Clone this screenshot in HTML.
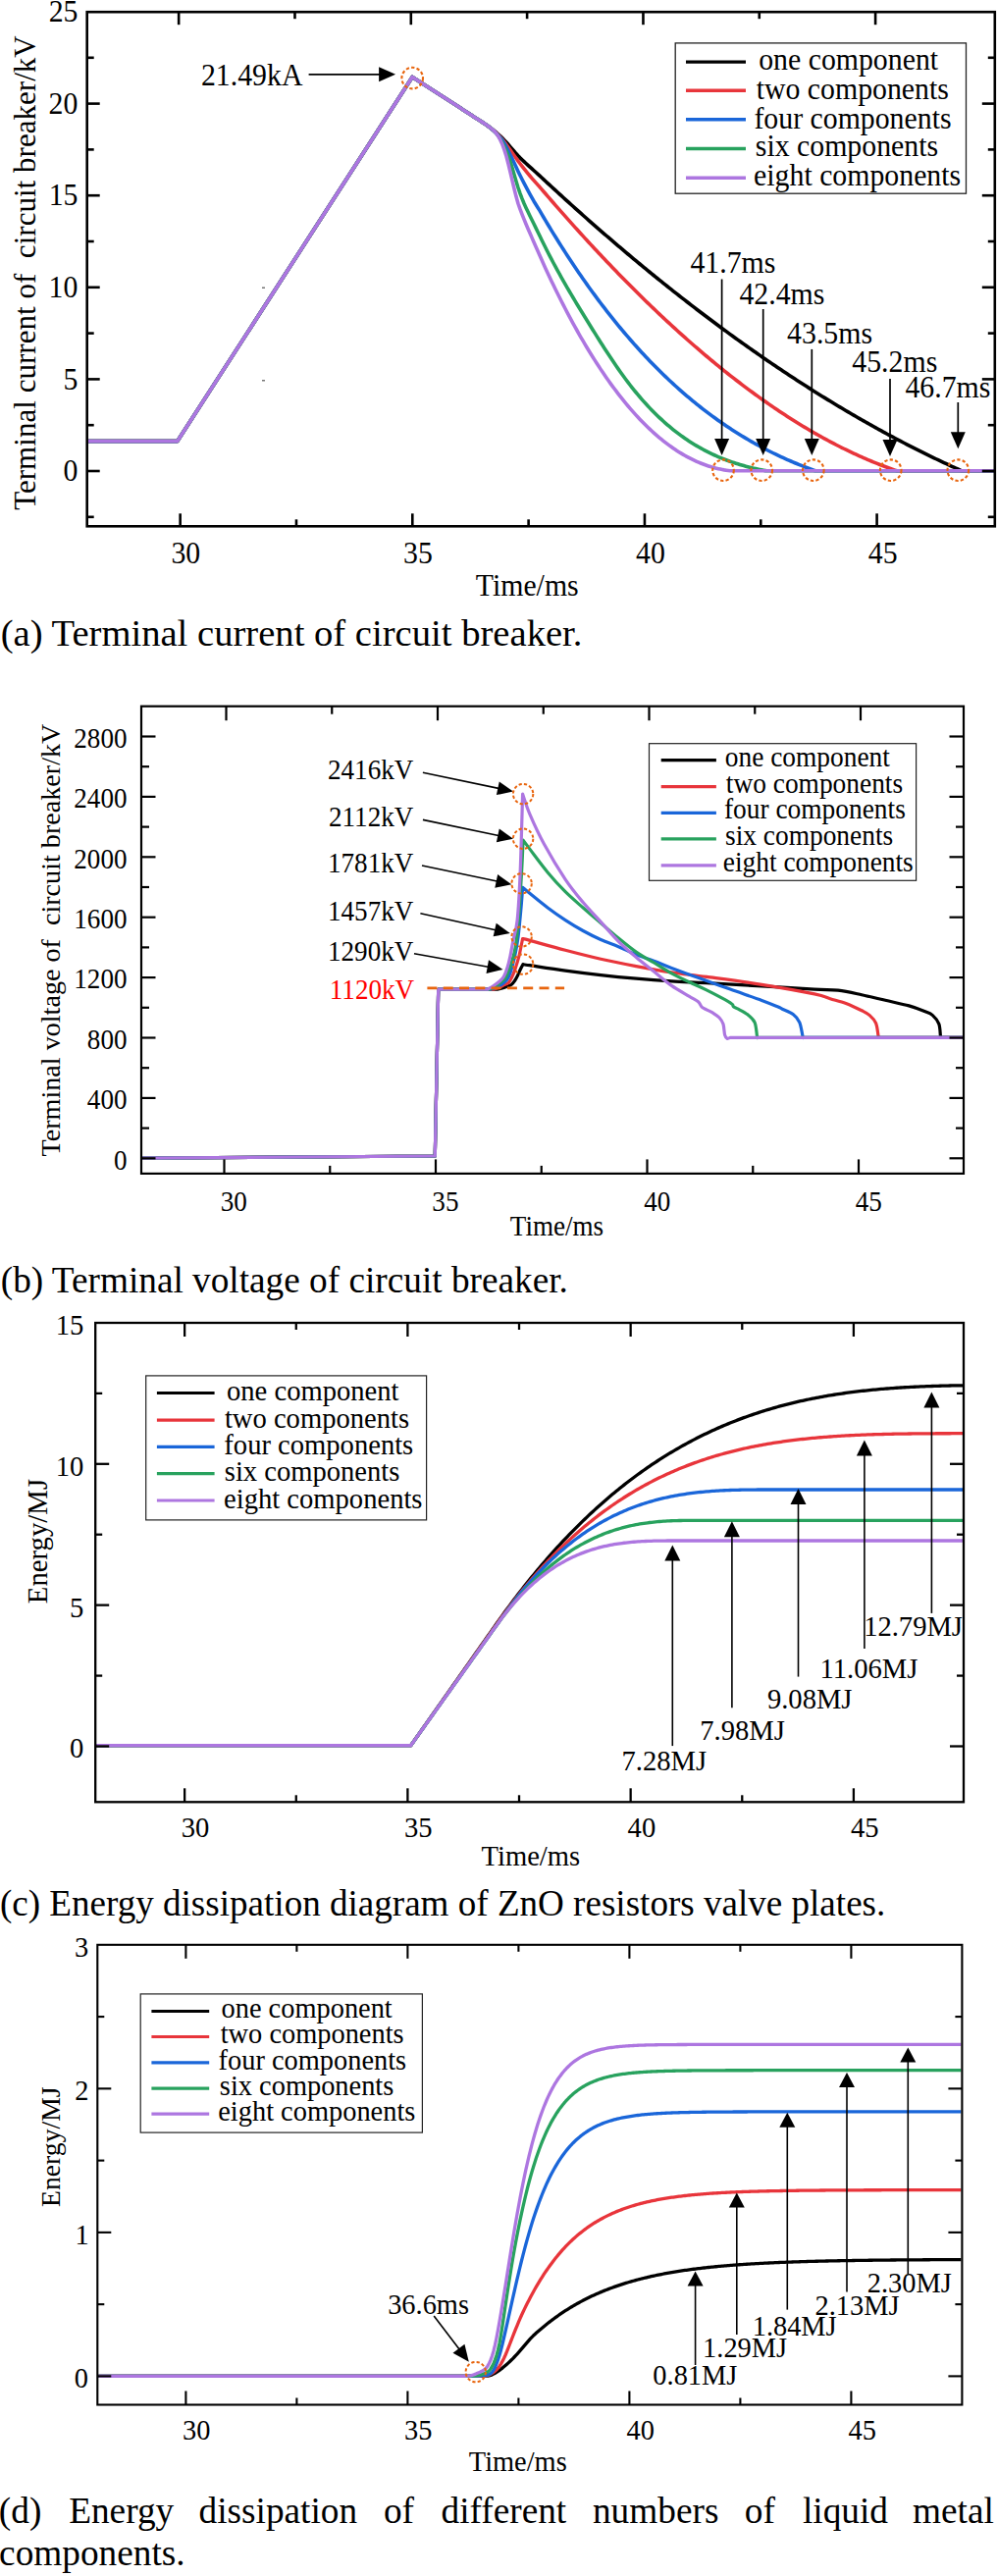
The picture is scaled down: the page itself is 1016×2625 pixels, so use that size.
<!DOCTYPE html>
<html><head><meta charset="utf-8"><style>
html,body{margin:0;padding:0;background:#fff;}
svg{display:block;}
text{font-family:"Liberation Serif", serif;}
</style></head><body>
<svg width="1016" height="2625" viewBox="0 0 1016 2625" font-family="Liberation Serif, serif">
<rect width="1016" height="2625" fill="#fff"/>
<path d="M89.7 449.6 L180.8 449.6 L420.2 78.4 L470 110.6 L472 111.9 L474 113.2 L476 114.5 L478 115.8 L480 117.1 L482 118.4 L484 119.7 L486 121 L488 122.3 L490 123.6 L492 124.88 L494 126.15 L496 127.5 L498 128.94 L500 130.42 L502 131.97 L504 133.58 L506 135.25 L508 137 L510 138.87 L512 140.86 L514 142.94 L516 145.06 L518 147.28 L520 149.58 L522 151.92 L524 154.27 L526 156.58 L528 158.78 L530 160.84 L532 162.79 L534 164.68 L536 166.52 L538 168.33 L540 170.13 L542 171.93 L544 173.72 L546 175.52 L548 177.32 L550 179.12 L552 180.98 L554 182.84 L556 184.7 L558 186.56 L560 188.41 L562 190.25 L564 192.09 L566 193.93 L568 195.76 L570 197.59 L572 199.42 L574 201.24 L576 203.05 L578 204.87 L580 206.68 L582 208.48 L584 210.28 L586 212.08 L588 213.87 L590 215.66 L592 217.44 L594 219.22 L596 221 L598 222.77 L600 224.53 L602 226.3 L604 228.06 L606 229.81 L608 231.56 L610 233.31 L612 235.05 L614 236.79 L616 238.52 L618 240.25 L620 241.98 L622 243.7 L624 245.42 L626 247.13 L628 248.84 L630 250.54 L632 252.24 L634 253.94 L636 255.63 L638 257.32 L640 259 L642 260.68 L644 262.35 L646 264.02 L648 265.69 L650 267.35 L652 269.01 L654 270.66 L656 272.31 L658 273.96 L660 275.6 L662 277.24 L664 278.87 L666 280.5 L668 282.12 L670 283.74 L672 285.35 L674 286.96 L676 288.57 L678 290.17 L680 291.77 L682 293.36 L684 294.95 L686 296.54 L688 298.12 L690 299.69 L692 301.26 L694 302.83 L696 304.39 L698 305.95 L700 307.51 L702 309.05 L704 310.6 L706 312.14 L708 313.68 L710 315.21 L712 316.74 L714 318.26 L716 319.78 L718 321.29 L720 322.8 L722 324.31 L724 325.81 L726 327.31 L728 328.8 L730 330.29 L732 331.77 L734 333.25 L736 334.72 L738 336.19 L740 337.66 L742 339.12 L744 340.58 L746 342.03 L748 343.48 L750 344.92 L752 346.36 L754 347.79 L756 349.22 L758 350.65 L760 352.07 L762 353.48 L764 354.9 L766 356.3 L768 357.71 L770 359.1 L772 360.5 L774 361.89 L776 363.27 L778 364.65 L780 366.03 L782 367.4 L784 368.76 L786 370.12 L788 371.48 L790 372.83 L792 374.18 L794 375.53 L796 376.86 L798 378.2 L800 379.53 L802 380.85 L804 382.17 L806 383.49 L808 384.8 L810 386.11 L812 387.41 L814 388.71 L816 390 L818 391.29 L820 392.57 L822 393.85 L824 395.12 L826 396.39 L828 397.66 L830 398.92 L832 400.17 L834 401.42 L836 402.67 L838 403.91 L840 405.15 L842 406.38 L844 407.61 L846 408.83 L848 410.05 L850 411.26 L852 412.47 L854 413.67 L856 414.87 L858 416.07 L860 417.26 L862 418.44 L864 419.62 L866 420.8 L868 421.97 L870 423.13 L872 424.29 L874 425.45 L876 426.6 L878 427.75 L880 428.89 L882 430.03 L884 431.16 L886 432.29 L888 433.41 L890 434.53 L892 435.64 L894 436.75 L896 437.85 L898 438.95 L900 440.05 L902 441.14 L904 442.22 L906 443.3 L908 444.37 L910 445.44 L912 446.51 L914 447.57 L916 448.62 L918 449.67 L920 450.72 L922 451.76 L924 452.8 L926 453.83 L928 454.85 L930 455.88 L932 456.89 L934 457.9 L936 458.91 L938 459.91 L940 460.91 L942 461.9 L944 462.89 L946 463.87 L948 464.84 L950 465.82 L952 466.78 L954 467.75 L956 468.7 L958 469.66 L960 470.6 L962 471.55 L964 472.48 L966 473.42 L968 474.34 L970 475.27 L972 476.18 L974 477.1 L976 478 L978 478.91 L980 479.8 L1012.8 479.8" fill="none" stroke="#000000" stroke-width="3.6" stroke-linejoin="round" stroke-linecap="butt"/>
<path d="M89.7 449.6 L180.8 449.6 L420.2 78.4 L470 110.6 L472 111.9 L474 113.2 L476 114.5 L478 115.8 L480 117.1 L482 118.4 L484 119.7 L486 121 L488 122.3 L490 123.6 L492 124.87 L494 126.14 L496 127.5 L498 128.96 L500 130.48 L502 132.08 L504 133.76 L506 135.57 L508 137.5 L510 139.68 L512 142.11 L514 144.67 L516 147.28 L518 150.01 L520 152.84 L522 155.71 L524 158.54 L526 161.32 L528 164.07 L530 166.77 L532 169.39 L534 171.96 L536 174.45 L538 176.88 L540 179.25 L542 181.57 L544 183.86 L546 186.11 L548 188.35 L550 190.56 L552 192.9 L554 195.23 L556 197.55 L558 199.87 L560 202.18 L562 204.48 L564 206.78 L566 209.07 L568 211.35 L570 213.63 L572 215.9 L574 218.16 L576 220.42 L578 222.67 L580 224.91 L582 227.15 L584 229.38 L586 231.6 L588 233.81 L590 236.02 L592 238.22 L594 240.41 L596 242.6 L598 244.78 L600 246.95 L602 249.11 L604 251.27 L606 253.42 L608 255.56 L610 257.7 L612 259.83 L614 261.95 L616 264.06 L618 266.17 L620 268.26 L622 270.36 L624 272.44 L626 274.51 L628 276.58 L630 278.64 L632 280.7 L634 282.74 L636 284.78 L638 286.81 L640 288.83 L642 290.84 L644 292.85 L646 294.85 L648 296.84 L650 298.82 L652 300.8 L654 302.76 L656 304.72 L658 306.67 L660 308.61 L662 310.55 L664 312.47 L666 314.39 L668 316.3 L670 318.2 L672 320.1 L674 321.98 L676 323.86 L678 325.73 L680 327.59 L682 329.44 L684 331.29 L686 333.12 L688 334.95 L690 336.77 L692 338.58 L694 340.38 L696 342.17 L698 343.95 L700 345.73 L702 347.5 L704 349.25 L706 351 L708 352.74 L710 354.48 L712 356.2 L714 357.91 L716 359.62 L718 361.32 L720 363 L722 364.68 L724 366.35 L726 368.01 L728 369.66 L730 371.31 L732 372.94 L734 374.56 L736 376.18 L738 377.79 L740 379.38 L742 380.97 L744 382.55 L746 384.12 L748 385.68 L750 387.23 L752 388.77 L754 390.3 L756 391.82 L758 393.33 L760 394.84 L762 396.33 L764 397.82 L766 399.29 L768 400.76 L770 402.21 L772 403.66 L774 405.09 L776 406.52 L778 407.93 L780 409.34 L782 410.74 L784 412.13 L786 413.5 L788 414.87 L790 416.23 L792 417.57 L794 418.91 L796 420.24 L798 421.56 L800 422.86 L802 424.16 L804 425.45 L806 426.73 L808 427.99 L810 429.25 L812 430.5 L814 431.73 L816 432.96 L818 434.17 L820 435.38 L822 436.57 L824 437.76 L826 438.93 L828 440.09 L830 441.25 L832 442.39 L834 443.52 L836 444.64 L838 445.75 L840 446.85 L842 447.94 L844 449.02 L846 450.09 L848 451.15 L850 452.19 L852 453.23 L854 454.25 L856 455.27 L858 456.27 L860 457.26 L862 458.24 L864 459.21 L866 460.17 L868 461.12 L870 462.06 L872 462.98 L874 463.9 L876 464.8 L878 465.69 L880 466.57 L882 467.44 L884 468.3 L886 469.15 L888 469.99 L890 470.81 L892 471.62 L894 472.43 L896 473.22 L898 474 L900 474.76 L902 475.52 L904 476.26 L906 477 L908 477.72 L910 478.43 L912 479.13 L914 479.8 L1012.8 479.8" fill="none" stroke="#e8353b" stroke-width="3.6" stroke-linejoin="round" stroke-linecap="butt"/>
<path d="M89.7 449.6 L180.8 449.6 L420.2 78.4 L470 110.6 L472 111.9 L474 113.2 L476 114.5 L478 115.8 L480 117.1 L482 118.4 L484 119.7 L486 121 L488 122.3 L490 123.6 L492 124.87 L494 126.13 L496 127.5 L498 129 L500 130.59 L502 132.27 L504 134.08 L506 136 L508 138.06 L510 140.35 L512 142.96 L514 146.11 L516 149.8 L518 153.78 L520 157.8 L522 161.84 L524 166.03 L526 170.35 L528 174.66 L530 178.8 L532 182.78 L534 186.65 L536 190.44 L538 194.16 L540 197.82 L542 201.45 L544 204.96 L546 208.26 L548 211.46 L550 214.66 L552 218.09 L554 221.49 L556 224.86 L558 228.21 L560 231.53 L562 234.82 L564 238.09 L566 241.32 L568 244.54 L570 247.72 L572 250.88 L574 254.02 L576 257.12 L578 260.2 L580 263.26 L582 266.29 L584 269.29 L586 272.27 L588 275.22 L590 278.15 L592 281.06 L594 283.93 L596 286.78 L598 289.61 L600 292.42 L602 295.19 L604 297.95 L606 300.68 L608 303.38 L610 306.06 L612 308.72 L614 311.35 L616 313.96 L618 316.55 L620 319.11 L622 321.65 L624 324.16 L626 326.65 L628 329.12 L630 331.57 L632 333.99 L634 336.39 L636 338.77 L638 341.12 L640 343.45 L642 345.76 L644 348.05 L646 350.32 L648 352.56 L650 354.78 L652 356.98 L654 359.16 L656 361.32 L658 363.45 L660 365.56 L662 367.66 L664 369.73 L666 371.78 L668 373.81 L670 375.82 L672 377.81 L674 379.77 L676 381.72 L678 383.65 L680 385.56 L682 387.44 L684 389.31 L686 391.16 L688 392.98 L690 394.79 L692 396.58 L694 398.35 L696 400.1 L698 401.83 L700 403.54 L702 405.23 L704 406.91 L706 408.56 L708 410.2 L710 411.82 L712 413.42 L714 415 L716 416.56 L718 418.11 L720 419.64 L722 421.15 L724 422.64 L726 424.11 L728 425.57 L730 427.01 L732 428.43 L734 429.84 L736 431.23 L738 432.6 L740 433.95 L742 435.29 L744 436.61 L746 437.92 L748 439.21 L750 440.48 L752 441.74 L754 442.98 L756 444.2 L758 445.41 L760 446.61 L762 447.79 L764 448.95 L766 450.1 L768 451.23 L770 452.35 L772 453.45 L774 454.54 L776 455.61 L778 456.67 L780 457.71 L782 458.74 L784 459.76 L786 460.76 L788 461.75 L790 462.72 L792 463.68 L794 464.63 L796 465.56 L798 466.48 L800 467.38 L802 468.28 L804 469.15 L806 470.02 L808 470.87 L810 471.72 L812 472.54 L814 473.36 L816 474.16 L818 474.95 L820 475.73 L822 476.5 L824 477.25 L826 478 L828 478.73 L830 479.45 L831 479.8 L1012.8 479.8" fill="none" stroke="#1a66d9" stroke-width="3.6" stroke-linejoin="round" stroke-linecap="butt"/>
<path d="M89.7 449.6 L180.8 449.6 L420.2 78.4 L470 110.6 L472 111.9 L474 113.2 L476 114.5 L478 115.8 L480 117.1 L482 118.4 L484 119.7 L486 121 L488 122.3 L490 123.6 L492 124.87 L494 126.13 L496 127.5 L498 128.95 L500 130.47 L502 132.12 L504 133.97 L506 136.14 L508 138.82 L510 141.94 L512 145.56 L514 149.75 L516 154.27 L518 159.17 L520 164.62 L522 171 L524 178.08 L526 184.84 L528 191.25 L530 197.12 L532 202.42 L534 207.28 L536 211.65 L538 215.85 L540 219.96 L542 224.02 L544 228.07 L546 232.12 L548 236.21 L550 240.32 L552 244.46 L554 248.53 L556 252.53 L558 256.48 L560 260.36 L562 264.19 L564 267.97 L566 271.69 L568 275.37 L570 278.99 L572 282.58 L574 286.12 L576 289.62 L578 293.09 L580 296.52 L582 299.92 L584 303.29 L586 306.64 L588 309.96 L590 313.26 L592 316.54 L594 319.81 L596 323.06 L598 326.29 L600 329.52 L602 332.75 L604 335.96 L606 339.16 L608 342.35 L610 345.53 L612 348.68 L614 351.82 L616 354.93 L618 358.01 L620 361.07 L622 364.1 L624 367.1 L626 370.06 L628 372.99 L630 375.87 L632 378.72 L634 381.52 L636 384.27 L638 386.98 L640 389.63 L642 392.23 L644 394.79 L646 397.29 L648 399.75 L650 402.15 L652 404.51 L654 406.83 L656 409.09 L658 411.31 L660 413.48 L662 415.61 L664 417.69 L666 419.73 L668 421.72 L670 423.67 L672 425.58 L674 427.44 L676 429.27 L678 431.05 L680 432.79 L682 434.49 L684 436.16 L686 437.78 L688 439.36 L690 440.91 L692 442.42 L694 443.89 L696 445.33 L698 446.73 L700 448.09 L702 449.42 L704 450.72 L706 451.98 L708 453.2 L710 454.4 L712 455.56 L714 456.69 L716 457.79 L718 458.86 L720 459.9 L722 460.91 L724 461.89 L726 462.84 L728 463.76 L730 464.66 L732 465.53 L734 466.37 L736 467.18 L738 467.98 L740 468.74 L742 469.48 L744 470.2 L746 470.89 L748 471.56 L750 472.21 L752 472.84 L754 473.44 L756 474.03 L758 474.59 L760 475.14 L762 475.66 L764 476.17 L766 476.66 L768 477.13 L770 477.58 L772 478.02 L774 478.44 L776 478.85 L778 479.24 L780 479.61 L781 479.8 L1012.8 479.8" fill="none" stroke="#28a25e" stroke-width="3.6" stroke-linejoin="round" stroke-linecap="butt"/>
<path d="M89.7 449.6 L180.8 449.6 L420.2 78.4 L470 110.6 L472 111.9 L474 113.2 L476 114.5 L478 115.8 L480 117.1 L482 118.4 L484 119.7 L486 121 L488 122.3 L490 123.6 L492 124.87 L494 126.13 L496 127.5 L498 128.93 L500 130.41 L502 132.03 L504 133.92 L506 136.21 L508 139.23 L510 142.9 L512 147.38 L514 152.85 L516 159.23 L518 167.05 L520 175.38 L522 183.8 L524 192.4 L526 200.34 L528 207.49 L530 213.19 L532 218.41 L534 223.41 L536 228.24 L538 232.94 L540 237.55 L542 242.12 L544 246.66 L546 251.2 L548 255.74 L550 260.3 L552 264.83 L554 269.28 L556 273.65 L558 277.96 L560 282.22 L562 286.43 L564 290.58 L566 294.69 L568 298.76 L570 302.77 L572 306.74 L574 310.65 L576 314.52 L578 318.35 L580 322.12 L582 325.85 L584 329.53 L586 333.16 L588 336.75 L590 340.29 L592 343.78 L594 347.22 L596 350.62 L598 353.97 L600 357.28 L602 360.54 L604 363.75 L606 366.91 L608 370.03 L610 373.1 L612 376.13 L614 379.11 L616 382.05 L618 384.94 L620 387.78 L622 390.58 L624 393.33 L626 396.04 L628 398.7 L630 401.31 L632 403.88 L634 406.41 L636 408.89 L638 411.33 L640 413.72 L642 416.07 L644 418.37 L646 420.63 L648 422.85 L650 425.02 L652 427.15 L654 429.23 L656 431.27 L658 433.27 L660 435.22 L662 437.13 L664 439 L666 440.82 L668 442.6 L670 444.34 L672 446.03 L674 447.69 L676 449.3 L678 450.87 L680 452.39 L682 453.88 L684 455.32 L686 456.72 L688 458.08 L690 459.39 L692 460.67 L694 461.9 L696 463.1 L698 464.25 L700 465.36 L702 466.43 L704 467.46 L706 468.45 L708 469.4 L710 470.31 L712 471.18 L714 472 L716 472.79 L718 473.54 L720 474.25 L722 474.92 L724 475.55 L726 476.14 L728 476.69 L730 477.2 L732 477.67 L734 478.1 L736 478.5 L738 478.86 L740 479.17 L742 479.45 L744 479.69 L745 479.8 L1012.8 479.8" fill="none" stroke="#ad76e0" stroke-width="3.6" stroke-linejoin="round" stroke-linecap="butt"/>
<line x1="183.65" y1="536.3" x2="183.65" y2="523.3" stroke="#000" stroke-width="2.6" />
<line x1="182.15" y1="12.2" x2="182.15" y2="25.2" stroke="#000" stroke-width="2.6" />
<line x1="301.98" y1="536.3" x2="301.98" y2="529.3" stroke="#000" stroke-width="2.6" />
<line x1="300.48" y1="12.2" x2="300.48" y2="19.2" stroke="#000" stroke-width="2.6" />
<line x1="420.3" y1="536.3" x2="420.3" y2="523.3" stroke="#000" stroke-width="2.6" />
<line x1="418.8" y1="12.2" x2="418.8" y2="25.2" stroke="#000" stroke-width="2.6" />
<line x1="538.62" y1="536.3" x2="538.62" y2="529.3" stroke="#000" stroke-width="2.6" />
<line x1="537.12" y1="12.2" x2="537.12" y2="19.2" stroke="#000" stroke-width="2.6" />
<line x1="656.95" y1="536.3" x2="656.95" y2="523.3" stroke="#000" stroke-width="2.6" />
<line x1="655.45" y1="12.2" x2="655.45" y2="25.2" stroke="#000" stroke-width="2.6" />
<line x1="775.27" y1="536.3" x2="775.27" y2="529.3" stroke="#000" stroke-width="2.6" />
<line x1="773.77" y1="12.2" x2="773.77" y2="19.2" stroke="#000" stroke-width="2.6" />
<line x1="893.6" y1="536.3" x2="893.6" y2="523.3" stroke="#000" stroke-width="2.6" />
<line x1="892.1" y1="12.2" x2="892.1" y2="25.2" stroke="#000" stroke-width="2.6" />
<line x1="88.7" y1="526.8" x2="95.7" y2="526.8" stroke="#000" stroke-width="2.6" />
<line x1="1013.8" y1="526.8" x2="1006.8" y2="526.8" stroke="#000" stroke-width="2.6" />
<line x1="88.7" y1="480" x2="101.7" y2="480" stroke="#000" stroke-width="2.6" />
<line x1="1013.8" y1="480" x2="1000.8" y2="480" stroke="#000" stroke-width="2.6" />
<line x1="88.7" y1="433.2" x2="95.7" y2="433.2" stroke="#000" stroke-width="2.6" />
<line x1="1013.8" y1="433.2" x2="1006.8" y2="433.2" stroke="#000" stroke-width="2.6" />
<line x1="88.7" y1="386.4" x2="101.7" y2="386.4" stroke="#000" stroke-width="2.6" />
<line x1="1013.8" y1="386.4" x2="1000.8" y2="386.4" stroke="#000" stroke-width="2.6" />
<line x1="88.7" y1="339.6" x2="95.7" y2="339.6" stroke="#000" stroke-width="2.6" />
<line x1="1013.8" y1="339.6" x2="1006.8" y2="339.6" stroke="#000" stroke-width="2.6" />
<line x1="88.7" y1="292.8" x2="101.7" y2="292.8" stroke="#000" stroke-width="2.6" />
<line x1="1013.8" y1="292.8" x2="1000.8" y2="292.8" stroke="#000" stroke-width="2.6" />
<line x1="88.7" y1="246" x2="95.7" y2="246" stroke="#000" stroke-width="2.6" />
<line x1="1013.8" y1="246" x2="1006.8" y2="246" stroke="#000" stroke-width="2.6" />
<line x1="88.7" y1="199.2" x2="101.7" y2="199.2" stroke="#000" stroke-width="2.6" />
<line x1="1013.8" y1="199.2" x2="1000.8" y2="199.2" stroke="#000" stroke-width="2.6" />
<line x1="88.7" y1="152.4" x2="95.7" y2="152.4" stroke="#000" stroke-width="2.6" />
<line x1="1013.8" y1="152.4" x2="1006.8" y2="152.4" stroke="#000" stroke-width="2.6" />
<line x1="88.7" y1="105.6" x2="101.7" y2="105.6" stroke="#000" stroke-width="2.6" />
<line x1="1013.8" y1="105.6" x2="1000.8" y2="105.6" stroke="#000" stroke-width="2.6" />
<line x1="88.7" y1="58.8" x2="95.7" y2="58.8" stroke="#000" stroke-width="2.6" />
<line x1="1013.8" y1="58.8" x2="1006.8" y2="58.8" stroke="#000" stroke-width="2.6" />
<rect x="88.7" y="12.2" width="925.1" height="524.1" fill="none" stroke="#000" stroke-width="2.6"/>
<line x1="267" y1="293.2" x2="270" y2="293.2" stroke="#555" stroke-width="1.2" />
<line x1="267" y1="387.8" x2="270" y2="387.8" stroke="#555" stroke-width="1.2" />
<text transform="matrix(1 0 0 1.07 174.4 574.2)" font-size="29.8" fill="#000" xml:space="preserve">30</text>
<text transform="matrix(1 0 0 1.07 411.09 574.2)" font-size="29.8" fill="#000" xml:space="preserve">35</text>
<text transform="matrix(1 0 0 1.07 648.11 574.2)" font-size="29.8" fill="#000" xml:space="preserve">40</text>
<text transform="matrix(1 0 0 1.07 884.8 574.2)" font-size="29.8" fill="#000" xml:space="preserve">45</text>
<text transform="matrix(1 0 0 1.07 64.52 490.2)" font-size="29.8" fill="#000" xml:space="preserve">0</text>
<text transform="matrix(1 0 0 1.07 64.59 396.6)" font-size="29.8" fill="#000" xml:space="preserve">5</text>
<text transform="matrix(1 0 0 1.07 49.62 303)" font-size="29.8" fill="#000" xml:space="preserve">10</text>
<text transform="matrix(1 0 0 1.07 49.69 209.4)" font-size="29.8" fill="#000" xml:space="preserve">15</text>
<text transform="matrix(1 0 0 1.07 49.62 115.8)" font-size="29.8" fill="#000" xml:space="preserve">20</text>
<text transform="matrix(1 0 0 1.07 49.69 22.2)" font-size="29.8" fill="#000" xml:space="preserve">25</text>
<text transform="translate(35.6 519.84) rotate(-90)" font-size="31.08" xml:space="preserve">Terminal current of  circuit breaker/kV</text>
<text transform="matrix(1 0 0 1.07 484.78 606.9)" font-size="29.8" fill="#000" xml:space="preserve">Time/ms</text>
<text transform="matrix(1 0 0 1.07 204.96 87.1)" font-size="29.8" fill="#000" xml:space="preserve">21.49kA</text>
<line x1="314.6" y1="75.8" x2="388.1" y2="75.8" stroke="#000" stroke-width="1.7" />
<polygon points="403.1,75.8 386.1,83.3 386.1,68.3" fill="#000"/>
<circle cx="420.2" cy="79.6" r="10.8" fill="none" stroke="#e8650e" stroke-width="2.1" stroke-dasharray="3.3 2.2"/>
<text transform="matrix(1 0 0 1.07 703.4 277.6)" font-size="29.8" fill="#000" xml:space="preserve">41.7ms</text>
<line x1="735.6" y1="284.5" x2="735.6" y2="449" stroke="#000" stroke-width="1.7" />
<polygon points="735.6,464 728.1,447 743.1,447" fill="#000"/>
<text transform="matrix(1 0 0 1.07 753.4 309.7)" font-size="29.8" fill="#000" xml:space="preserve">42.4ms</text>
<line x1="777.7" y1="315" x2="777.7" y2="449" stroke="#000" stroke-width="1.7" />
<polygon points="777.7,464 770.2,447 785.2,447" fill="#000"/>
<text transform="matrix(1 0 0 1.07 802.1 349.8)" font-size="29.8" fill="#000" xml:space="preserve">43.5ms</text>
<line x1="827.3" y1="355.9" x2="827.3" y2="449" stroke="#000" stroke-width="1.7" />
<polygon points="827.3,464 819.8,447 834.8,447" fill="#000"/>
<text transform="matrix(1 0 0 1.07 868.3 379)" font-size="29.8" fill="#000" xml:space="preserve">45.2ms</text>
<line x1="907" y1="386" x2="907" y2="450" stroke="#000" stroke-width="1.7" />
<polygon points="907,465 899.5,448 914.5,448" fill="#000"/>
<text transform="matrix(1 0 0 1.07 922.4 405)" font-size="29.8" fill="#000" xml:space="preserve">46.7ms</text>
<line x1="976.3" y1="410" x2="976.3" y2="442.3" stroke="#000" stroke-width="1.7" />
<polygon points="976.3,457.3 968.8,440.3 983.8,440.3" fill="#000"/>
<circle cx="737" cy="479.2" r="10.8" fill="none" stroke="#e8650e" stroke-width="2.1" stroke-dasharray="3.3 2.2"/>
<circle cx="776.2" cy="479.2" r="10.8" fill="none" stroke="#e8650e" stroke-width="2.1" stroke-dasharray="3.3 2.2"/>
<circle cx="828.8" cy="479.2" r="10.8" fill="none" stroke="#e8650e" stroke-width="2.1" stroke-dasharray="3.3 2.2"/>
<circle cx="907.7" cy="479.2" r="10.8" fill="none" stroke="#e8650e" stroke-width="2.1" stroke-dasharray="3.3 2.2"/>
<circle cx="976.3" cy="479.2" r="10.8" fill="none" stroke="#e8650e" stroke-width="2.1" stroke-dasharray="3.3 2.2"/>
<rect x="688.2" y="43.9" width="296.3" height="153.3" fill="#fff" stroke="#222" stroke-width="1.3"/>
<line x1="699" y1="63.1" x2="760" y2="63.1" stroke="#000000" stroke-width="3.4" />
<text transform="matrix(1 0 0 1.07 773.18 71.4)" font-size="29.8" fill="#000" xml:space="preserve">one component</text>
<line x1="699" y1="92.2" x2="760" y2="92.2" stroke="#e8353b" stroke-width="3.4" />
<text transform="matrix(1 0 0 1.07 770.7 101.2)" font-size="29.8" fill="#000" xml:space="preserve">two components</text>
<line x1="699" y1="121.7" x2="760" y2="121.7" stroke="#1a66d9" stroke-width="3.4" />
<text transform="matrix(1 0 0 1.07 768.41 131)" font-size="29.8" fill="#000" xml:space="preserve">four components</text>
<line x1="699" y1="151.5" x2="760" y2="151.5" stroke="#28a25e" stroke-width="3.4" />
<text transform="matrix(1 0 0 1.07 769.81 159)" font-size="29.8" fill="#000" xml:space="preserve">six components</text>
<line x1="699" y1="181.3" x2="760" y2="181.3" stroke="#ad76e0" stroke-width="3.4" />
<text transform="matrix(1 0 0 1.07 768.11 188.9)" font-size="29.8" fill="#000" xml:space="preserve">eight components</text>
<text x="0.66" y="658" font-size="38.63" fill="#000" xml:space="preserve">(a) Terminal current of circuit breaker.</text>
<path d="M145 1180.2 L443.3 1178 L446.7 1008.1 L507 1008.1 C507.78 1007.92 510.2 1007.43 511.7 1007 C513.2 1006.57 514.4 1006.12 516 1005.5 C517.6 1004.88 519.88 1004.3 521.3 1003.3 C522.72 1002.3 523.43 1001.1 524.5 999.5 C525.57 997.9 526.78 995.53 527.7 993.7 C528.62 991.87 529.33 989.95 530 988.5 C530.67 987.05 531.2 985.98 531.7 985 C532.2 984.02 532.78 983 533 982.6 C534.17 982.78 532.82 982.62 540 983.7 C547.18 984.78 564.07 987.45 576.1 989.1 C588.13 990.75 600.17 992.25 612.2 993.6 C624.23 994.95 636.27 996.15 648.3 997.2 C660.33 998.25 672.45 999.15 684.4 999.9 C696.35 1000.65 704.68 1000.87 720 1001.7 C735.32 1002.53 757.97 1003.83 776.3 1004.9 C794.63 1005.97 817.03 1007.38 830 1008.1 C842.97 1008.82 846.08 1008.27 854.1 1009.2 C862.12 1010.13 870.08 1012.02 878.1 1013.7 C886.12 1015.38 894.17 1017.43 902.2 1019.3 C910.23 1021.17 919.62 1023.02 926.3 1024.9 C932.98 1026.78 938.28 1028.98 942.3 1030.6 C946.32 1032.22 947.98 1032.47 950.4 1034.6 C952.82 1036.73 955.47 1039.93 956.8 1043.4 C958.13 1046.87 958.03 1053.07 958.4 1055.4 C958.77 1057.73 958.9 1057.07 959 1057.4 L981 1057.4" fill="none" stroke="#000000" stroke-width="3.2" stroke-linejoin="round" stroke-linecap="butt"/>
<path d="M145 1180.2 L443.3 1178 L446.7 1008.1 L503 1008.1 C503.92 1007.83 506.83 1007.18 508.5 1006.5 C510.17 1005.82 511.4 1004.8 513 1004 C514.6 1003.2 516.68 1003.03 518.1 1001.7 C519.52 1000.37 520.43 998.13 521.5 996 C522.57 993.87 523.58 991.4 524.5 988.9 C525.42 986.4 526.2 983.68 527 981 C527.8 978.32 528.55 975.97 529.3 972.8 C530.05 969.63 530.95 964.72 531.5 962 C532.05 959.28 532.42 957.42 532.6 956.5 C533.83 956.82 532.75 956.43 540 958.4 C547.25 960.37 564.07 965.15 576.1 968.3 C588.13 971.45 600.17 974.58 612.2 977.3 C624.23 980.02 636.27 982.33 648.3 984.6 C660.33 986.87 672.45 989.1 684.4 990.9 C696.35 992.7 704.68 993.33 720 995.4 C735.32 997.47 757.97 1000.38 776.3 1003.3 C794.63 1006.22 818.38 1010.5 830 1012.9 C841.62 1015.3 840.65 1016.1 846 1017.7 C851.35 1019.3 856.75 1020.48 862.1 1022.5 C867.45 1024.52 874.08 1027.78 878.1 1029.8 C882.12 1031.82 883.78 1032.47 886.2 1034.6 C888.62 1036.73 891.13 1039.13 892.6 1042.6 C894.07 1046.07 894.52 1052.93 895 1055.4 C895.48 1057.87 895.42 1057.07 895.5 1057.4 L981 1057.4" fill="none" stroke="#e8353b" stroke-width="3.2" stroke-linejoin="round" stroke-linecap="butt"/>
<path d="M145 1180.2 L443.3 1178 L446.7 1008.1 L500 1008.1 C500.83 1007.83 503.33 1007.18 505 1006.5 C506.67 1005.82 508.08 1005.33 510 1004 C511.92 1002.67 514.75 1000.83 516.5 998.5 C518.25 996.17 519.17 993.92 520.5 990 C521.83 986.08 523.25 980.83 524.5 975 C525.75 969.17 526.92 963.33 528 955 C529.08 946.67 530.23 933.45 531 925 C531.77 916.55 532.33 907.75 532.6 904.3 C533.85 905.35 535.85 907.15 540.1 910.6 C544.35 914.05 552.1 920.5 558.1 925 C564.1 929.5 570.08 933.68 576.1 937.6 C582.12 941.52 588.18 945.18 594.2 948.5 C600.22 951.82 606.18 954.8 612.2 957.5 C618.22 960.2 624.28 962.15 630.3 964.7 C636.32 967.25 642.28 970.38 648.3 972.8 C654.32 975.22 660.38 976.93 666.4 979.2 C672.42 981.47 676.78 983.5 684.4 986.4 C692.02 989.3 702.13 992.98 712.1 996.6 C722.07 1000.22 733.5 1004.3 744.2 1008.1 C754.9 1011.9 768.28 1016.45 776.3 1019.4 C784.32 1022.35 788.82 1024.33 792.3 1025.8 C795.78 1027.27 794.52 1026.87 797.2 1028.2 C799.88 1029.53 805.47 1031.53 808.4 1033.8 C811.33 1036.07 813.2 1038.1 814.8 1041.8 C816.4 1045.5 817.38 1053.4 818 1056 C818.62 1058.6 818.42 1057.17 818.5 1057.4 L981 1057.4" fill="none" stroke="#1a66d9" stroke-width="3.2" stroke-linejoin="round" stroke-linecap="butt"/>
<path d="M145 1180.2 L443.3 1178 L446.7 1008.1 L498.5 1008.1 C499.35 1007.7 501.85 1006.72 503.6 1005.7 C505.35 1004.68 507.12 1003.47 509 1002 C510.88 1000.53 513.4 998.9 514.9 996.9 C516.4 994.9 516.93 992.67 518 990 C519.07 987.33 520.08 985.1 521.3 980.9 C522.52 976.7 524.1 972.45 525.3 964.8 C526.5 957.15 527.47 947.47 528.5 935 C529.53 922.53 530.73 903.13 531.5 890 C532.27 876.87 532.83 861.83 533.1 856.2 C534.25 857.73 535.83 859.95 540 865.4 C544.17 870.85 552.08 881.68 558.1 888.9 C564.12 896.12 570.08 902.68 576.1 908.7 C582.12 914.72 588.18 919.7 594.2 925 C600.22 930.3 606.18 935.33 612.2 940.5 C618.22 945.67 624.28 951.07 630.3 956 C636.32 960.93 642.28 965.93 648.3 970.1 C654.32 974.27 660.38 977.38 666.4 981 C672.42 984.62 678.38 988.5 684.4 991.8 C690.42 995.1 696.57 997.95 702.5 1000.8 C708.43 1003.65 713.05 1005.4 720 1008.9 C726.95 1012.4 739.63 1018.98 744.2 1021.8 C748.77 1024.62 746.07 1024.73 747.4 1025.8 C748.73 1026.87 749.8 1026.87 752.2 1028.2 C754.6 1029.53 758.98 1031.53 761.8 1033.8 C764.62 1036.07 767.48 1038.1 769.1 1041.8 C770.72 1045.5 771.02 1053.4 771.5 1056 C771.98 1058.6 771.92 1057.17 772 1057.4 L981 1057.4" fill="none" stroke="#28a25e" stroke-width="3.2" stroke-linejoin="round" stroke-linecap="butt"/>
<path d="M145 1180.2 L443.3 1178 L446.7 1008.1 L497 1008.1 C498 1007.5 501 1005.85 503 1004.5 C505 1003.15 507.28 1001.53 509 1000 C510.72 998.47 511.97 997.63 513.3 995.3 C514.63 992.97 515.88 989.55 517 986 C518.12 982.45 519 978.67 520 974 C521 969.33 521.82 964 523 958 C524.18 952 525.92 949.33 527.1 938 C528.28 926.67 529.18 911.48 530.1 890 C531.02 868.52 532.18 822.58 532.6 809.1 C533.85 812.6 536.47 821.62 540.1 830.1 C543.73 838.58 548.4 849 554.4 860 C560.4 871 569.47 886.17 576.1 896.1 C582.73 906.03 588.18 912.38 594.2 919.6 C600.22 926.82 606.18 932.78 612.2 939.4 C618.22 946.02 624.28 953.28 630.3 959.3 C636.32 965.32 642.28 970.38 648.3 975.5 C654.32 980.62 660.38 985.18 666.4 990 C672.42 994.82 678.38 1000.18 684.4 1004.4 C690.42 1008.62 697.98 1012.58 702.5 1015.3 C707.02 1018.02 709.4 1018.9 711.5 1020.7 C713.6 1022.5 713.68 1024.75 715.1 1026.1 C716.52 1027.45 718.1 1027.78 720 1028.8 C721.9 1029.82 724.33 1030.83 726.5 1032.2 C728.67 1033.57 731.25 1035.12 733 1037 C734.75 1038.88 736.07 1040.55 737 1043.5 C737.93 1046.45 737.93 1052.25 738.6 1054.7 C739.27 1057.15 740.07 1057.75 741 1058.2 C741.93 1058.65 743.67 1057.53 744.2 1057.4 L981 1057.4" fill="none" stroke="#ad76e0" stroke-width="3.2" stroke-linejoin="round" stroke-linecap="butt"/>
<line x1="228.5" y1="1195.9" x2="228.5" y2="1181.4" stroke="#000" stroke-width="2.2" />
<line x1="230.5" y1="719.7" x2="230.5" y2="734.2" stroke="#000" stroke-width="2.2" />
<line x1="336.25" y1="1195.9" x2="336.25" y2="1187.9" stroke="#000" stroke-width="2.2" />
<line x1="338.25" y1="719.7" x2="338.25" y2="727.7" stroke="#000" stroke-width="2.2" />
<line x1="444" y1="1195.9" x2="444" y2="1181.4" stroke="#000" stroke-width="2.2" />
<line x1="446" y1="719.7" x2="446" y2="734.2" stroke="#000" stroke-width="2.2" />
<line x1="551.75" y1="1195.9" x2="551.75" y2="1187.9" stroke="#000" stroke-width="2.2" />
<line x1="553.75" y1="719.7" x2="553.75" y2="727.7" stroke="#000" stroke-width="2.2" />
<line x1="659.5" y1="1195.9" x2="659.5" y2="1181.4" stroke="#000" stroke-width="2.2" />
<line x1="661.5" y1="719.7" x2="661.5" y2="734.2" stroke="#000" stroke-width="2.2" />
<line x1="767.25" y1="1195.9" x2="767.25" y2="1187.9" stroke="#000" stroke-width="2.2" />
<line x1="769.25" y1="719.7" x2="769.25" y2="727.7" stroke="#000" stroke-width="2.2" />
<line x1="875" y1="1195.9" x2="875" y2="1181.4" stroke="#000" stroke-width="2.2" />
<line x1="877" y1="719.7" x2="877" y2="734.2" stroke="#000" stroke-width="2.2" />
<line x1="144" y1="1180.3" x2="158.5" y2="1180.3" stroke="#000" stroke-width="2.2" />
<line x1="982" y1="1180.3" x2="967.5" y2="1180.3" stroke="#000" stroke-width="2.2" />
<line x1="144" y1="1149.6" x2="152" y2="1149.6" stroke="#000" stroke-width="2.2" />
<line x1="982" y1="1149.6" x2="974" y2="1149.6" stroke="#000" stroke-width="2.2" />
<line x1="144" y1="1118.9" x2="158.5" y2="1118.9" stroke="#000" stroke-width="2.2" />
<line x1="982" y1="1118.9" x2="967.5" y2="1118.9" stroke="#000" stroke-width="2.2" />
<line x1="144" y1="1088.2" x2="152" y2="1088.2" stroke="#000" stroke-width="2.2" />
<line x1="982" y1="1088.2" x2="974" y2="1088.2" stroke="#000" stroke-width="2.2" />
<line x1="144" y1="1057.5" x2="158.5" y2="1057.5" stroke="#000" stroke-width="2.2" />
<line x1="982" y1="1057.5" x2="967.5" y2="1057.5" stroke="#000" stroke-width="2.2" />
<line x1="144" y1="1026.8" x2="152" y2="1026.8" stroke="#000" stroke-width="2.2" />
<line x1="982" y1="1026.8" x2="974" y2="1026.8" stroke="#000" stroke-width="2.2" />
<line x1="144" y1="996.1" x2="158.5" y2="996.1" stroke="#000" stroke-width="2.2" />
<line x1="982" y1="996.1" x2="967.5" y2="996.1" stroke="#000" stroke-width="2.2" />
<line x1="144" y1="965.4" x2="152" y2="965.4" stroke="#000" stroke-width="2.2" />
<line x1="982" y1="965.4" x2="974" y2="965.4" stroke="#000" stroke-width="2.2" />
<line x1="144" y1="934.7" x2="158.5" y2="934.7" stroke="#000" stroke-width="2.2" />
<line x1="982" y1="934.7" x2="967.5" y2="934.7" stroke="#000" stroke-width="2.2" />
<line x1="144" y1="904" x2="152" y2="904" stroke="#000" stroke-width="2.2" />
<line x1="982" y1="904" x2="974" y2="904" stroke="#000" stroke-width="2.2" />
<line x1="144" y1="873.3" x2="158.5" y2="873.3" stroke="#000" stroke-width="2.2" />
<line x1="982" y1="873.3" x2="967.5" y2="873.3" stroke="#000" stroke-width="2.2" />
<line x1="144" y1="842.6" x2="152" y2="842.6" stroke="#000" stroke-width="2.2" />
<line x1="982" y1="842.6" x2="974" y2="842.6" stroke="#000" stroke-width="2.2" />
<line x1="144" y1="811.9" x2="158.5" y2="811.9" stroke="#000" stroke-width="2.2" />
<line x1="982" y1="811.9" x2="967.5" y2="811.9" stroke="#000" stroke-width="2.2" />
<line x1="144" y1="781.2" x2="152" y2="781.2" stroke="#000" stroke-width="2.2" />
<line x1="982" y1="781.2" x2="974" y2="781.2" stroke="#000" stroke-width="2.2" />
<line x1="144" y1="750.5" x2="158.5" y2="750.5" stroke="#000" stroke-width="2.2" />
<line x1="982" y1="750.5" x2="967.5" y2="750.5" stroke="#000" stroke-width="2.2" />
<rect x="144" y="719.7" width="838" height="476.2" fill="none" stroke="#000" stroke-width="2.2"/>
<text transform="matrix(1 0 0 1.05 224.81 1233.5)" font-size="27.1" fill="#000" xml:space="preserve">30</text>
<text transform="matrix(1 0 0 1.05 440.35 1233.5)" font-size="27.1" fill="#000" xml:space="preserve">35</text>
<text transform="matrix(1 0 0 1.05 656.19 1233.5)" font-size="27.1" fill="#000" xml:space="preserve">40</text>
<text transform="matrix(1 0 0 1.05 871.72 1233.5)" font-size="27.1" fill="#000" xml:space="preserve">45</text>
<text transform="matrix(1 0 0 1.05 115.97 1191.6)" font-size="27.1" fill="#000" xml:space="preserve">0</text>
<text transform="matrix(1 0 0 1.05 88.87 1130.2)" font-size="27.1" fill="#000" xml:space="preserve">400</text>
<text transform="matrix(1 0 0 1.05 88.87 1068.8)" font-size="27.1" fill="#000" xml:space="preserve">800</text>
<text transform="matrix(1 0 0 1.05 75.32 1007.4)" font-size="27.1" fill="#000" xml:space="preserve">1200</text>
<text transform="matrix(1 0 0 1.05 75.32 946)" font-size="27.1" fill="#000" xml:space="preserve">1600</text>
<text transform="matrix(1 0 0 1.05 75.32 884.6)" font-size="27.1" fill="#000" xml:space="preserve">2000</text>
<text transform="matrix(1 0 0 1.05 75.32 823.2)" font-size="27.1" fill="#000" xml:space="preserve">2400</text>
<text transform="matrix(1 0 0 1.05 75.32 761.8)" font-size="27.1" fill="#000" xml:space="preserve">2800</text>
<text transform="translate(60.6 1178.49) rotate(-90)" font-size="28.14" xml:space="preserve">Terminal voltage of  circuit breaker/kV</text>
<text transform="matrix(1 0 0 1.05 519.83 1259.4)" font-size="27.1" fill="#000" xml:space="preserve">Time/ms</text>
<text transform="matrix(1 0 0 1.05 334.01 793.7)" font-size="27.1" fill="#000" xml:space="preserve">2416kV</text>
<text transform="matrix(1 0 0 1.05 335.03 841.8)" font-size="27.1" fill="#000" xml:space="preserve">2112kV</text>
<text transform="matrix(1 0 0 1.05 334.01 889)" font-size="27.1" fill="#000" xml:space="preserve">1781kV</text>
<text transform="matrix(1 0 0 1.05 334.01 938.1)" font-size="27.1" fill="#000" xml:space="preserve">1457kV</text>
<text transform="matrix(1 0 0 1.05 334.01 978.9)" font-size="27.1" fill="#000" xml:space="preserve">1290kV</text>
<text transform="matrix(1 0 0 1.05 335.83 1017.6)" font-size="27.1" fill="#ff0000" xml:space="preserve">1120kV</text>
<line x1="430.9" y1="787.3" x2="509.29" y2="803.64" stroke="#000" stroke-width="1.6" />
<polygon points="523,806.5 505.91,810.09 508.77,796.38" fill="#000"/>
<line x1="430.9" y1="835.4" x2="509.3" y2="851.83" stroke="#000" stroke-width="1.6" />
<polygon points="523,854.7 505.9,858.27 508.78,844.57" fill="#000"/>
<line x1="430" y1="882" x2="507.7" y2="898.32" stroke="#000" stroke-width="1.6" />
<polygon points="521.4,901.2 504.3,904.76 507.18,891.06" fill="#000"/>
<line x1="428.4" y1="930.7" x2="506.13" y2="947.96" stroke="#000" stroke-width="1.6" />
<polygon points="519.8,951 502.66,954.36 505.7,940.7" fill="#000"/>
<line x1="422" y1="971.8" x2="498.72" y2="985.45" stroke="#000" stroke-width="1.6" />
<polygon points="512.5,987.9 495.52,991.99 497.97,978.21" fill="#000"/>
<circle cx="533.1" cy="809.1" r="10.2" fill="none" stroke="#e8650e" stroke-width="2" stroke-dasharray="3.2 2.2"/>
<circle cx="533.1" cy="854.7" r="10.2" fill="none" stroke="#e8650e" stroke-width="2" stroke-dasharray="3.2 2.2"/>
<circle cx="531.6" cy="900.3" r="10.2" fill="none" stroke="#e8650e" stroke-width="2" stroke-dasharray="3.2 2.2"/>
<circle cx="531.6" cy="954.5" r="10.2" fill="none" stroke="#e8650e" stroke-width="2" stroke-dasharray="3.2 2.2"/>
<circle cx="533.1" cy="982.6" r="10.2" fill="none" stroke="#e8650e" stroke-width="2" stroke-dasharray="3.2 2.2"/>
<line x1="435.4" y1="1006.9" x2="575.1" y2="1006.9" stroke="#e8650e" stroke-width="2.6" stroke-dasharray="10 6.3"/>
<rect x="661.5" y="757.7" width="272.1" height="139.6" fill="#fff" stroke="#222" stroke-width="1.2"/>
<line x1="673.7" y1="774.7" x2="729.9" y2="774.7" stroke="#000000" stroke-width="3.2" />
<text transform="matrix(1 0 0 1.05 738.77 780.7)" font-size="27.4" fill="#000" xml:space="preserve">one component</text>
<line x1="673.7" y1="801.6" x2="729.9" y2="801.6" stroke="#e8353b" stroke-width="3.2" />
<text transform="matrix(1 0 0 1.05 739.83 807.6)" font-size="27.4" fill="#000" xml:space="preserve">two components</text>
<line x1="673.7" y1="828.3" x2="729.9" y2="828.3" stroke="#1a66d9" stroke-width="3.2" />
<text transform="matrix(1 0 0 1.05 737.98 834.3)" font-size="27.4" fill="#000" xml:space="preserve">four components</text>
<line x1="673.7" y1="854.9" x2="729.9" y2="854.9" stroke="#28a25e" stroke-width="3.2" />
<text transform="matrix(1 0 0 1.05 739 860.9)" font-size="27.4" fill="#000" xml:space="preserve">six components</text>
<line x1="673.7" y1="881.8" x2="729.9" y2="881.8" stroke="#ad76e0" stroke-width="3.2" />
<text transform="matrix(1 0 0 1.05 736.8 887.8)" font-size="27.4" fill="#000" xml:space="preserve">eight components</text>
<text x="0.72" y="1316.5" font-size="37.27" fill="#000" xml:space="preserve">(b) Terminal voltage of circuit breaker.</text>
<path d="M98.2 1778.7 L418.6 1778.7 L420 1776.71 L422 1773.87 L424 1771.03 L426 1768.19 L428 1765.35 L430 1762.51 L432 1759.67 L434 1756.83 L436 1753.98 L438 1751.14 L440 1748.3 L442 1745.46 L444 1742.62 L446 1739.78 L448 1736.94 L450 1734.1 L452 1731.26 L454 1728.42 L456 1725.58 L458 1722.73 L460 1719.89 L462 1717.05 L464 1714.21 L466 1711.37 L468 1708.53 L470 1705.69 L472 1702.85 L474 1700.01 L476 1697.17 L478 1694.33 L480 1691.48 L482 1688.64 L484 1685.8 L486 1682.96 L488 1680.12 L490 1677.28 L492 1674.44 L494 1671.6 L496 1668.76 L498 1665.92 L500 1663.08 L502 1660.23 L504 1657.39 L506 1654.55 L508 1651.72 L510 1648.9 L512 1646.11 L514 1643.34 L516 1640.59 L518 1637.87 L520 1635.17 L522 1632.49 L524 1629.83 L526 1627.19 L528 1624.58 L530 1621.99 L532 1619.41 L534 1616.86 L536 1614.34 L538 1611.83 L540 1609.34 L542 1606.88 L544 1604.44 L546 1602.01 L548 1599.61 L550 1597.23 L552 1594.87 L554 1592.53 L556 1590.21 L558 1587.91 L560 1585.63 L562 1583.38 L564 1581.14 L566 1578.92 L568 1576.72 L570 1574.54 L572 1572.38 L574 1570.24 L576 1568.12 L578 1566.02 L580 1563.94 L582 1561.88 L584 1559.84 L586 1557.82 L588 1555.81 L590 1553.82 L592 1551.86 L594 1549.91 L596 1547.98 L598 1546.07 L600 1544.17 L602 1542.3 L604 1540.44 L606 1538.6 L608 1536.78 L610 1534.98 L612 1533.19 L614 1531.43 L616 1529.68 L618 1527.95 L620 1526.23 L622 1524.53 L624 1522.85 L626 1521.19 L628 1519.54 L630 1517.91 L632 1516.3 L634 1514.71 L636 1513.13 L638 1511.57 L640 1510.02 L642 1508.49 L644 1506.98 L646 1505.48 L648 1504 L650 1502.54 L652 1501.09 L654 1499.65 L656 1498.24 L658 1496.83 L660 1495.45 L662 1494.08 L664 1492.72 L666 1491.38 L668 1490.06 L670 1488.75 L672 1487.45 L674 1486.17 L676 1484.91 L678 1483.66 L680 1482.42 L682 1481.2 L684 1479.99 L686 1478.8 L688 1477.62 L690 1476.46 L692 1475.31 L694 1474.17 L696 1473.05 L698 1471.94 L700 1470.85 L702 1469.77 L704 1468.7 L706 1467.65 L708 1466.6 L710 1465.58 L712 1464.56 L714 1463.56 L716 1462.57 L718 1461.6 L720 1460.64 L722 1459.69 L724 1458.75 L726 1457.82 L728 1456.91 L730 1456.01 L732 1455.12 L734 1454.25 L736 1453.38 L738 1452.53 L740 1451.69 L742 1450.87 L744 1450.05 L746 1449.25 L748 1448.45 L750 1447.67 L752 1446.9 L754 1446.14 L756 1445.39 L758 1444.66 L760 1443.93 L762 1443.22 L764 1442.51 L766 1441.82 L768 1441.14 L770 1440.47 L772 1439.81 L774 1439.15 L776 1438.51 L778 1437.88 L780 1437.26 L782 1436.65 L784 1436.05 L786 1435.46 L788 1434.88 L790 1434.31 L792 1433.75 L794 1433.2 L796 1432.65 L798 1432.12 L800 1431.6 L802 1431.08 L804 1430.58 L806 1430.08 L808 1429.59 L810 1429.11 L812 1428.64 L814 1428.18 L816 1427.73 L818 1427.28 L820 1426.85 L822 1426.42 L824 1426 L826 1425.59 L828 1425.19 L830 1424.79 L832 1424.4 L834 1424.02 L836 1423.65 L838 1423.29 L840 1422.93 L842 1422.58 L844 1422.24 L846 1421.9 L848 1421.57 L850 1421.25 L852 1420.94 L854 1420.63 L856 1420.33 L858 1420.04 L860 1419.75 L862 1419.48 L864 1419.2 L866 1418.94 L868 1418.68 L870 1418.42 L872 1418.17 L874 1417.93 L876 1417.7 L878 1417.47 L880 1417.24 L882 1417.03 L884 1416.81 L886 1416.61 L888 1416.41 L890 1416.21 L892 1416.02 L894 1415.83 L896 1415.66 L898 1415.48 L900 1415.31 L902 1415.15 L904 1414.99 L906 1414.83 L908 1414.68 L910 1414.54 L912 1414.4 L914 1414.26 L916 1414.13 L918 1414 L920 1413.88 L922 1413.76 L924 1413.65 L926 1413.53 L928 1413.43 L930 1413.32 L932 1413.23 L934 1413.13 L936 1413.04 L938 1412.95 L940 1412.87 L942 1412.78 L944 1412.71 L946 1412.63 L948 1412.56 L950 1412.49 L952 1412.43 L954 1412.37 L956 1412.31 L958 1412.25 L960 1412.2 L962 1412.15 L964 1412.1 L966 1412.05 L968 1412.01 L970 1411.97 L972 1411.93 L974 1411.89 L976 1411.86 L978 1411.83 L980 1411.8 L981 1411.78" fill="none" stroke="#000000" stroke-width="3.3" stroke-linejoin="round" stroke-linecap="butt"/>
<path d="M98.2 1778.7 L418.6 1778.7 L420 1776.72 L422 1773.89 L424 1771.06 L426 1768.24 L428 1765.41 L430 1762.58 L432 1759.75 L434 1756.92 L436 1754.09 L438 1751.27 L440 1748.44 L442 1745.61 L444 1742.78 L446 1739.95 L448 1737.13 L450 1734.3 L452 1731.47 L454 1728.64 L456 1725.81 L458 1722.98 L460 1720.16 L462 1717.33 L464 1714.5 L466 1711.67 L468 1708.84 L470 1706.02 L472 1703.19 L474 1700.36 L476 1697.53 L478 1694.7 L480 1691.87 L482 1689.05 L484 1686.22 L486 1683.39 L488 1680.56 L490 1677.73 L492 1674.9 L494 1672.08 L496 1669.25 L498 1666.42 L500 1663.59 L502 1660.76 L504 1657.94 L506 1655.11 L508 1652.3 L510 1649.52 L512 1646.77 L514 1644.05 L516 1641.35 L518 1638.69 L520 1636.06 L522 1633.45 L524 1630.87 L526 1628.32 L528 1625.8 L530 1623.31 L532 1620.84 L534 1618.4 L536 1615.99 L538 1613.61 L540 1611.25 L542 1608.92 L544 1606.61 L546 1604.34 L548 1602.08 L550 1599.86 L552 1597.66 L554 1595.48 L556 1593.33 L558 1591.21 L560 1589.11 L562 1587.03 L564 1584.98 L566 1582.95 L568 1580.95 L570 1578.97 L572 1577.02 L574 1575.09 L576 1573.18 L578 1571.3 L580 1569.44 L582 1567.6 L584 1565.78 L586 1563.99 L588 1562.22 L590 1560.47 L592 1558.75 L594 1557.04 L596 1555.36 L598 1553.7 L600 1552.06 L602 1550.44 L604 1548.85 L606 1547.27 L608 1545.71 L610 1544.18 L612 1542.66 L614 1541.17 L616 1539.69 L618 1538.24 L620 1536.8 L622 1535.39 L624 1533.99 L626 1532.61 L628 1531.25 L630 1529.91 L632 1528.59 L634 1527.29 L636 1526.01 L638 1524.74 L640 1523.49 L642 1522.26 L644 1521.05 L646 1519.85 L648 1518.68 L650 1517.52 L652 1516.37 L654 1515.25 L656 1514.14 L658 1513.04 L660 1511.97 L662 1510.91 L664 1509.86 L666 1508.83 L668 1507.82 L670 1506.82 L672 1505.84 L674 1504.87 L676 1503.92 L678 1502.99 L680 1502.06 L682 1501.16 L684 1500.27 L686 1499.39 L688 1498.52 L690 1497.68 L692 1496.84 L694 1496.02 L696 1495.21 L698 1494.42 L700 1493.64 L702 1492.87 L704 1492.11 L706 1491.37 L708 1490.64 L710 1489.93 L712 1489.23 L714 1488.53 L716 1487.86 L718 1487.19 L720 1486.54 L722 1485.89 L724 1485.26 L726 1484.64 L728 1484.03 L730 1483.44 L732 1482.85 L734 1482.28 L736 1481.72 L738 1481.16 L740 1480.62 L742 1480.09 L744 1479.57 L746 1479.06 L748 1478.56 L750 1478.07 L752 1477.59 L754 1477.12 L756 1476.66 L758 1476.2 L760 1475.76 L762 1475.33 L764 1474.9 L766 1474.49 L768 1474.08 L770 1473.69 L772 1473.3 L774 1472.92 L776 1472.55 L778 1472.18 L780 1471.83 L782 1471.48 L784 1471.14 L786 1470.81 L788 1470.49 L790 1470.17 L792 1469.86 L794 1469.56 L796 1469.27 L798 1468.98 L800 1468.7 L802 1468.43 L804 1468.17 L806 1467.91 L808 1467.65 L810 1467.41 L812 1467.17 L814 1466.94 L816 1466.71 L818 1466.49 L820 1466.27 L822 1466.06 L824 1465.86 L826 1465.66 L828 1465.47 L830 1465.28 L832 1465.1 L834 1464.93 L836 1464.76 L838 1464.59 L840 1464.43 L842 1464.28 L844 1464.12 L846 1463.98 L848 1463.84 L850 1463.7 L852 1463.57 L854 1463.44 L856 1463.31 L858 1463.19 L860 1463.08 L862 1462.97 L864 1462.86 L866 1462.75 L868 1462.65 L870 1462.56 L872 1462.46 L874 1462.37 L876 1462.29 L878 1462.2 L880 1462.12 L882 1462.05 L884 1461.97 L886 1461.9 L888 1461.83 L890 1461.77 L892 1461.71 L894 1461.65 L896 1461.59 L898 1461.54 L900 1461.48 L902 1461.43 L904 1461.39 L906 1461.34 L908 1461.3 L910 1461.26 L912 1461.22 L914 1461.18 L916 1461.15 L918 1461.12 L920 1461.09 L922 1461.06 L924 1461.03 L926 1461 L928 1460.98 L930 1460.95 L932 1460.93 L934 1460.91 L936 1460.89 L938 1460.88 L940 1460.86 L942 1460.84 L944 1460.83 L946 1460.82 L948 1460.8 L950 1460.79 L952 1460.78 L954 1460.77 L956 1460.77 L958 1460.76 L960 1460.75 L962 1460.74 L964 1460.74 L966 1460.73 L968 1460.73 L970 1460.72 L972 1460.72 L974 1460.72 L976 1460.71 L978 1460.71 L980 1460.71 L981 1460.71" fill="none" stroke="#e8353b" stroke-width="3.3" stroke-linejoin="round" stroke-linecap="butt"/>
<path d="M98.2 1778.7 L418.6 1778.7 L420 1776.74 L422 1773.94 L424 1771.13 L426 1768.33 L428 1765.53 L430 1762.72 L432 1759.92 L434 1757.12 L436 1754.32 L438 1751.51 L440 1748.71 L442 1745.91 L444 1743.1 L446 1740.3 L448 1737.5 L450 1734.7 L452 1731.89 L454 1729.09 L456 1726.29 L458 1723.49 L460 1720.68 L462 1717.88 L464 1715.08 L466 1712.27 L468 1709.47 L470 1706.67 L472 1703.87 L474 1701.06 L476 1698.26 L478 1695.46 L480 1692.65 L482 1689.85 L484 1687.05 L486 1684.25 L488 1681.44 L490 1678.64 L492 1675.84 L494 1673.03 L496 1670.23 L498 1667.43 L500 1664.63 L502 1661.82 L504 1659.02 L506 1656.22 L508 1653.42 L510 1650.61 L512 1647.81 L514 1645.02 L516 1642.27 L518 1639.56 L520 1636.88 L522 1634.25 L524 1631.66 L526 1629.1 L528 1626.58 L530 1624.11 L532 1621.67 L534 1619.26 L536 1616.9 L538 1614.57 L540 1612.28 L542 1610.02 L544 1607.8 L546 1605.62 L548 1603.47 L550 1601.36 L552 1599.28 L554 1597.24 L556 1595.23 L558 1593.25 L560 1591.31 L562 1589.4 L564 1587.53 L566 1585.69 L568 1583.88 L570 1582.1 L572 1580.36 L574 1578.65 L576 1576.97 L578 1575.32 L580 1573.7 L582 1572.11 L584 1570.56 L586 1569.03 L588 1567.53 L590 1566.06 L592 1564.62 L594 1563.21 L596 1561.83 L598 1560.48 L600 1559.15 L602 1557.86 L604 1556.59 L606 1555.34 L608 1554.13 L610 1552.94 L612 1551.78 L614 1550.64 L616 1549.53 L618 1548.44 L620 1547.38 L622 1546.35 L624 1545.34 L626 1544.35 L628 1543.39 L630 1542.45 L632 1541.53 L634 1540.64 L636 1539.77 L638 1538.92 L640 1538.09 L642 1537.29 L644 1536.51 L646 1535.75 L648 1535.01 L650 1534.29 L652 1533.59 L654 1532.91 L656 1532.26 L658 1531.62 L660 1531 L662 1530.4 L664 1529.82 L666 1529.25 L668 1528.71 L670 1528.18 L672 1527.67 L674 1527.18 L676 1526.7 L678 1526.24 L680 1525.8 L682 1525.38 L684 1524.97 L686 1524.57 L688 1524.19 L690 1523.83 L692 1523.47 L694 1523.14 L696 1522.82 L698 1522.51 L700 1522.21 L702 1521.93 L704 1521.66 L706 1521.41 L708 1521.16 L710 1520.93 L712 1520.71 L714 1520.5 L716 1520.3 L718 1520.11 L720 1519.93 L722 1519.77 L724 1519.61 L726 1519.46 L728 1519.32 L730 1519.2 L732 1519.07 L734 1518.96 L736 1518.86 L738 1518.76 L740 1518.67 L742 1518.59 L744 1518.52 L746 1518.45 L748 1518.39 L750 1518.33 L752 1518.28 L754 1518.23 L756 1518.19 L758 1518.16 L760 1518.13 L762 1518.1 L764 1518.08 L766 1518.06 L768 1518.05 L770 1518.03 L772 1518.02 L774 1518.01 L776 1518.01 L778 1518 L780 1518 L782 1518 L784 1518 L786 1518 L788 1518 L790 1518 L792 1518 L794 1518 L796 1518 L798 1518 L800 1518 L802 1518 L804 1518 L806 1518 L808 1518 L810 1518 L812 1518 L814 1518 L816 1518 L818 1518 L820 1518 L822 1518 L824 1518 L826 1518 L828 1518 L830 1518 L832 1518 L834 1518 L836 1518 L838 1518 L840 1518 L842 1518 L844 1518 L846 1518 L848 1518 L850 1518 L852 1518 L854 1518 L856 1518 L858 1518 L860 1518 L862 1518 L864 1518 L866 1518 L868 1518 L870 1518 L872 1518 L874 1518 L876 1518 L878 1518 L880 1518 L882 1518 L884 1518 L886 1518 L888 1518 L890 1518 L892 1518 L894 1518 L896 1518 L898 1518 L900 1518 L902 1518 L904 1518 L906 1518 L908 1518 L910 1518 L912 1518 L914 1518 L916 1518 L918 1518 L920 1518 L922 1518 L924 1518 L926 1518 L928 1518 L930 1518 L932 1518 L934 1518 L936 1518 L938 1518 L940 1518 L942 1518 L944 1518 L946 1518 L948 1518 L950 1518 L952 1518 L954 1518 L956 1518 L958 1518 L960 1518 L962 1518 L964 1518 L966 1518 L968 1518 L970 1518 L972 1518 L974 1518 L976 1518 L978 1518 L980 1518 L981 1518" fill="none" stroke="#1a66d9" stroke-width="3.3" stroke-linejoin="round" stroke-linecap="butt"/>
<path d="M98.2 1778.7 L418.6 1778.7 L420 1776.74 L422 1773.94 L424 1771.14 L426 1768.33 L428 1765.53 L430 1762.73 L432 1759.93 L434 1757.13 L436 1754.32 L438 1751.52 L440 1748.72 L442 1745.92 L444 1743.12 L446 1740.32 L448 1737.51 L450 1734.71 L452 1731.91 L454 1729.11 L456 1726.31 L458 1723.5 L460 1720.7 L462 1717.9 L464 1715.1 L466 1712.3 L468 1709.49 L470 1706.69 L472 1703.89 L474 1701.09 L476 1698.29 L478 1695.49 L480 1692.68 L482 1689.88 L484 1687.08 L486 1684.28 L488 1681.48 L490 1678.67 L492 1675.87 L494 1673.07 L496 1670.27 L498 1667.47 L500 1664.67 L502 1661.86 L504 1659.06 L506 1656.27 L508 1653.51 L510 1650.79 L512 1648.12 L514 1645.5 L516 1642.92 L518 1640.38 L520 1637.88 L522 1635.43 L524 1633.02 L526 1630.65 L528 1628.32 L530 1626.04 L532 1623.79 L534 1621.59 L536 1619.43 L538 1617.3 L540 1615.22 L542 1613.18 L544 1611.18 L546 1609.21 L548 1607.29 L550 1605.4 L552 1603.56 L554 1601.75 L556 1599.98 L558 1598.24 L560 1596.54 L562 1594.88 L564 1593.26 L566 1591.67 L568 1590.12 L570 1588.61 L572 1587.13 L574 1585.68 L576 1584.27 L578 1582.89 L580 1581.55 L582 1580.24 L584 1578.97 L586 1577.72 L588 1576.51 L590 1575.34 L592 1574.19 L594 1573.08 L596 1572 L598 1570.94 L600 1569.92 L602 1568.93 L604 1567.97 L606 1567.04 L608 1566.14 L610 1565.27 L612 1564.43 L614 1563.61 L616 1562.82 L618 1562.06 L620 1561.33 L622 1560.62 L624 1559.94 L626 1559.29 L628 1558.66 L630 1558.06 L632 1557.48 L634 1556.93 L636 1556.4 L638 1555.89 L640 1555.41 L642 1554.95 L644 1554.51 L646 1554.1 L648 1553.7 L650 1553.33 L652 1552.98 L654 1552.64 L656 1552.33 L658 1552.04 L660 1551.76 L662 1551.51 L664 1551.27 L666 1551.05 L668 1550.84 L670 1550.66 L672 1550.49 L674 1550.33 L676 1550.19 L678 1550.06 L680 1549.95 L682 1549.84 L684 1549.76 L686 1549.68 L688 1549.61 L690 1549.56 L692 1549.51 L694 1549.48 L696 1549.45 L698 1549.43 L700 1549.41 L702 1549.41 L704 1549.4 L706 1549.4 L708 1549.4 L710 1549.4 L712 1549.4 L714 1549.4 L716 1549.4 L718 1549.4 L720 1549.4 L722 1549.4 L724 1549.4 L726 1549.4 L728 1549.4 L730 1549.4 L732 1549.4 L734 1549.4 L736 1549.4 L738 1549.4 L740 1549.4 L742 1549.4 L744 1549.4 L746 1549.4 L748 1549.4 L750 1549.4 L752 1549.4 L754 1549.4 L756 1549.4 L758 1549.4 L760 1549.4 L762 1549.4 L764 1549.4 L766 1549.4 L768 1549.4 L770 1549.4 L772 1549.4 L774 1549.4 L776 1549.4 L778 1549.4 L780 1549.4 L782 1549.4 L784 1549.4 L786 1549.4 L788 1549.4 L790 1549.4 L792 1549.4 L794 1549.4 L796 1549.4 L798 1549.4 L800 1549.4 L802 1549.4 L804 1549.4 L806 1549.4 L808 1549.4 L810 1549.4 L812 1549.4 L814 1549.4 L816 1549.4 L818 1549.4 L820 1549.4 L822 1549.4 L824 1549.4 L826 1549.4 L828 1549.4 L830 1549.4 L832 1549.4 L834 1549.4 L836 1549.4 L838 1549.4 L840 1549.4 L842 1549.4 L844 1549.4 L846 1549.4 L848 1549.4 L850 1549.4 L852 1549.4 L854 1549.4 L856 1549.4 L858 1549.4 L860 1549.4 L862 1549.4 L864 1549.4 L866 1549.4 L868 1549.4 L870 1549.4 L872 1549.4 L874 1549.4 L876 1549.4 L878 1549.4 L880 1549.4 L882 1549.4 L884 1549.4 L886 1549.4 L888 1549.4 L890 1549.4 L892 1549.4 L894 1549.4 L896 1549.4 L898 1549.4 L900 1549.4 L902 1549.4 L904 1549.4 L906 1549.4 L908 1549.4 L910 1549.4 L912 1549.4 L914 1549.4 L916 1549.4 L918 1549.4 L920 1549.4 L922 1549.4 L924 1549.4 L926 1549.4 L928 1549.4 L930 1549.4 L932 1549.4 L934 1549.4 L936 1549.4 L938 1549.4 L940 1549.4 L942 1549.4 L944 1549.4 L946 1549.4 L948 1549.4 L950 1549.4 L952 1549.4 L954 1549.4 L956 1549.4 L958 1549.4 L960 1549.4 L962 1549.4 L964 1549.4 L966 1549.4 L968 1549.4 L970 1549.4 L972 1549.4 L974 1549.4 L976 1549.4 L978 1549.4 L980 1549.4 L981 1549.4" fill="none" stroke="#28a25e" stroke-width="3.3" stroke-linejoin="round" stroke-linecap="butt"/>
<path d="M98.2 1778.7 L418.6 1778.7 L420 1776.74 L422 1773.94 L424 1771.13 L426 1768.33 L428 1765.53 L430 1762.72 L432 1759.92 L434 1757.12 L436 1754.32 L438 1751.51 L440 1748.71 L442 1745.91 L444 1743.11 L446 1740.3 L448 1737.5 L450 1734.7 L452 1731.89 L454 1729.09 L456 1726.29 L458 1723.49 L460 1720.68 L462 1717.88 L464 1715.08 L466 1712.28 L468 1709.47 L470 1706.67 L472 1703.87 L474 1701.06 L476 1698.26 L478 1695.46 L480 1692.66 L482 1689.85 L484 1687.05 L486 1684.25 L488 1681.45 L490 1678.64 L492 1675.84 L494 1673.04 L496 1670.23 L498 1667.43 L500 1664.63 L502 1661.83 L504 1659.02 L506 1656.22 L508 1653.44 L510 1650.72 L512 1648.06 L514 1645.46 L516 1642.92 L518 1640.44 L520 1638.02 L522 1635.65 L524 1633.33 L526 1631.08 L528 1628.87 L530 1626.72 L532 1624.63 L534 1622.58 L536 1620.59 L538 1618.65 L540 1616.76 L542 1614.92 L544 1613.13 L546 1611.39 L548 1609.69 L550 1608.04 L552 1606.44 L554 1604.89 L556 1603.38 L558 1601.91 L560 1600.49 L562 1599.11 L564 1597.77 L566 1596.48 L568 1595.22 L570 1594.01 L572 1592.84 L574 1591.7 L576 1590.61 L578 1589.55 L580 1588.53 L582 1587.54 L584 1586.59 L586 1585.68 L588 1584.8 L590 1583.95 L592 1583.14 L594 1582.36 L596 1581.61 L598 1580.89 L600 1580.2 L602 1579.54 L604 1578.92 L606 1578.31 L608 1577.74 L610 1577.2 L612 1576.68 L614 1576.18 L616 1575.71 L618 1575.27 L620 1574.85 L622 1574.45 L624 1574.08 L626 1573.72 L628 1573.39 L630 1573.08 L632 1572.79 L634 1572.52 L636 1572.26 L638 1572.03 L640 1571.81 L642 1571.6 L644 1571.42 L646 1571.24 L648 1571.09 L650 1570.94 L652 1570.81 L654 1570.7 L656 1570.59 L658 1570.5 L660 1570.41 L662 1570.34 L664 1570.28 L666 1570.22 L668 1570.17 L670 1570.13 L672 1570.1 L674 1570.07 L676 1570.05 L678 1570.03 L680 1570.02 L682 1570.01 L684 1570.01 L686 1570 L688 1570 L690 1570 L692 1570 L694 1570 L696 1570 L698 1570 L700 1570 L702 1570 L704 1570 L706 1570 L708 1570 L710 1570 L712 1570 L714 1570 L716 1570 L718 1570 L720 1570 L722 1570 L724 1570 L726 1570 L728 1570 L730 1570 L732 1570 L734 1570 L736 1570 L738 1570 L740 1570 L742 1570 L744 1570 L746 1570 L748 1570 L750 1570 L752 1570 L754 1570 L756 1570 L758 1570 L760 1570 L762 1570 L764 1570 L766 1570 L768 1570 L770 1570 L772 1570 L774 1570 L776 1570 L778 1570 L780 1570 L782 1570 L784 1570 L786 1570 L788 1570 L790 1570 L792 1570 L794 1570 L796 1570 L798 1570 L800 1570 L802 1570 L804 1570 L806 1570 L808 1570 L810 1570 L812 1570 L814 1570 L816 1570 L818 1570 L820 1570 L822 1570 L824 1570 L826 1570 L828 1570 L830 1570 L832 1570 L834 1570 L836 1570 L838 1570 L840 1570 L842 1570 L844 1570 L846 1570 L848 1570 L850 1570 L852 1570 L854 1570 L856 1570 L858 1570 L860 1570 L862 1570 L864 1570 L866 1570 L868 1570 L870 1570 L872 1570 L874 1570 L876 1570 L878 1570 L880 1570 L882 1570 L884 1570 L886 1570 L888 1570 L890 1570 L892 1570 L894 1570 L896 1570 L898 1570 L900 1570 L902 1570 L904 1570 L906 1570 L908 1570 L910 1570 L912 1570 L914 1570 L916 1570 L918 1570 L920 1570 L922 1570 L924 1570 L926 1570 L928 1570 L930 1570 L932 1570 L934 1570 L936 1570 L938 1570 L940 1570 L942 1570 L944 1570 L946 1570 L948 1570 L950 1570 L952 1570 L954 1570 L956 1570 L958 1570 L960 1570 L962 1570 L964 1570 L966 1570 L968 1570 L970 1570 L972 1570 L974 1570 L976 1570 L978 1570 L980 1570 L981 1570" fill="none" stroke="#ad76e0" stroke-width="3.3" stroke-linejoin="round" stroke-linecap="butt"/>
<line x1="188.15" y1="1836.3" x2="188.15" y2="1822.3" stroke="#000" stroke-width="2.3" />
<line x1="188.15" y1="1348" x2="188.15" y2="1362" stroke="#000" stroke-width="2.3" />
<line x1="301.77" y1="1836.3" x2="301.77" y2="1829.3" stroke="#000" stroke-width="2.3" />
<line x1="301.77" y1="1348" x2="301.77" y2="1355" stroke="#000" stroke-width="2.3" />
<line x1="415.4" y1="1836.3" x2="415.4" y2="1822.3" stroke="#000" stroke-width="2.3" />
<line x1="415.4" y1="1348" x2="415.4" y2="1362" stroke="#000" stroke-width="2.3" />
<line x1="529.02" y1="1836.3" x2="529.02" y2="1829.3" stroke="#000" stroke-width="2.3" />
<line x1="529.02" y1="1348" x2="529.02" y2="1355" stroke="#000" stroke-width="2.3" />
<line x1="642.65" y1="1836.3" x2="642.65" y2="1822.3" stroke="#000" stroke-width="2.3" />
<line x1="642.65" y1="1348" x2="642.65" y2="1362" stroke="#000" stroke-width="2.3" />
<line x1="756.27" y1="1836.3" x2="756.27" y2="1829.3" stroke="#000" stroke-width="2.3" />
<line x1="756.27" y1="1348" x2="756.27" y2="1355" stroke="#000" stroke-width="2.3" />
<line x1="869.9" y1="1836.3" x2="869.9" y2="1822.3" stroke="#000" stroke-width="2.3" />
<line x1="869.9" y1="1348" x2="869.9" y2="1362" stroke="#000" stroke-width="2.3" />
<line x1="97.2" y1="1779.5" x2="111.2" y2="1779.5" stroke="#000" stroke-width="2.3" />
<line x1="982" y1="1779.5" x2="968" y2="1779.5" stroke="#000" stroke-width="2.3" />
<line x1="97.2" y1="1707.58" x2="104.2" y2="1707.58" stroke="#000" stroke-width="2.3" />
<line x1="982" y1="1707.58" x2="975" y2="1707.58" stroke="#000" stroke-width="2.3" />
<line x1="97.2" y1="1635.65" x2="111.2" y2="1635.65" stroke="#000" stroke-width="2.3" />
<line x1="982" y1="1635.65" x2="968" y2="1635.65" stroke="#000" stroke-width="2.3" />
<line x1="97.2" y1="1563.72" x2="104.2" y2="1563.72" stroke="#000" stroke-width="2.3" />
<line x1="982" y1="1563.72" x2="975" y2="1563.72" stroke="#000" stroke-width="2.3" />
<line x1="97.2" y1="1491.8" x2="111.2" y2="1491.8" stroke="#000" stroke-width="2.3" />
<line x1="982" y1="1491.8" x2="968" y2="1491.8" stroke="#000" stroke-width="2.3" />
<line x1="97.2" y1="1419.88" x2="104.2" y2="1419.88" stroke="#000" stroke-width="2.3" />
<line x1="982" y1="1419.88" x2="975" y2="1419.88" stroke="#000" stroke-width="2.3" />
<rect x="97.2" y="1348" width="884.8" height="488.3" fill="none" stroke="#000" stroke-width="2.3"/>
<text transform="matrix(1 0 0 1.03 184.71 1872)" font-size="28.6" fill="#000" xml:space="preserve">30</text>
<text transform="matrix(1 0 0 1.03 411.99 1872)" font-size="28.6" fill="#000" xml:space="preserve">35</text>
<text transform="matrix(1 0 0 1.03 639.6 1872)" font-size="28.6" fill="#000" xml:space="preserve">40</text>
<text transform="matrix(1 0 0 1.03 866.89 1872)" font-size="28.6" fill="#000" xml:space="preserve">45</text>
<text transform="matrix(1 0 0 1.03 70.97 1791.4)" font-size="28.6" fill="#000" xml:space="preserve">0</text>
<text transform="matrix(1 0 0 1.03 71.04 1647.55)" font-size="28.6" fill="#000" xml:space="preserve">5</text>
<text transform="matrix(1 0 0 1.03 56.67 1503.7)" font-size="28.6" fill="#000" xml:space="preserve">10</text>
<text transform="matrix(1 0 0 1.03 56.74 1359.85)" font-size="28.6" fill="#000" xml:space="preserve">15</text>
<text transform="translate(48.3 1634.16) rotate(-90)" font-size="28.75" xml:space="preserve">Energy/MJ</text>
<text transform="matrix(1 0 0 1.03 490.5 1900.7)" font-size="28.6" fill="#000" xml:space="preserve">Time/ms</text>
<line x1="685.3" y1="1779.1" x2="685.3" y2="1588.5" stroke="#000" stroke-width="1.6" />
<polygon points="685.3,1574.5 693.3,1590.5 677.3,1590.5" fill="#000"/>
<text transform="matrix(1 0 0 1.03 633.56 1803.9)" font-size="28.6" fill="#000" xml:space="preserve">7.28MJ</text>
<line x1="745.9" y1="1740.3" x2="745.9" y2="1564.3" stroke="#000" stroke-width="1.6" />
<polygon points="745.9,1550.3 753.9,1566.3 737.9,1566.3" fill="#000"/>
<text transform="matrix(1 0 0 1.03 713.26 1773.4)" font-size="28.6" fill="#000" xml:space="preserve">7.98MJ</text>
<line x1="813.5" y1="1708.6" x2="813.5" y2="1531" stroke="#000" stroke-width="1.6" />
<polygon points="813.5,1517 821.5,1533 805.5,1533" fill="#000"/>
<text transform="matrix(1 0 0 1.03 781.93 1741)" font-size="28.6" fill="#000" xml:space="preserve">9.08MJ</text>
<line x1="880.9" y1="1680" x2="880.9" y2="1481.5" stroke="#000" stroke-width="1.6" />
<polygon points="880.9,1467.5 888.9,1483.5 872.9,1483.5" fill="#000"/>
<text transform="matrix(1 0 0 1.03 835.48 1709.8)" font-size="28.6" fill="#000" xml:space="preserve">11.06MJ</text>
<line x1="949.4" y1="1643.9" x2="949.4" y2="1432.5" stroke="#000" stroke-width="1.6" />
<polygon points="949.4,1418.5 957.4,1434.5 941.4,1434.5" fill="#000"/>
<text transform="matrix(1 0 0 1.03 880.14 1666.7)" font-size="28.6" fill="#000" xml:space="preserve">12.79MJ</text>
<rect x="148.7" y="1401.9" width="285.9" height="147" fill="#fff" stroke="#222" stroke-width="1.2"/>
<line x1="159.9" y1="1419.5" x2="218.6" y2="1419.5" stroke="#000000" stroke-width="3.2" />
<text transform="matrix(1 0 0 1.03 231.03 1427.1)" font-size="28.6" fill="#000" xml:space="preserve">one component</text>
<line x1="159.9" y1="1447.1" x2="218.6" y2="1447.1" stroke="#e8353b" stroke-width="3.2" />
<text transform="matrix(1 0 0 1.03 228.91 1454.7)" font-size="28.6" fill="#000" xml:space="preserve">two components</text>
<line x1="159.9" y1="1474.4" x2="218.6" y2="1474.4" stroke="#1a66d9" stroke-width="3.2" />
<text transform="matrix(1 0 0 1.03 228.34 1482)" font-size="28.6" fill="#000" xml:space="preserve">four components</text>
<line x1="159.9" y1="1501.7" x2="218.6" y2="1501.7" stroke="#28a25e" stroke-width="3.2" />
<text transform="matrix(1 0 0 1.03 228.76 1509.3)" font-size="28.6" fill="#000" xml:space="preserve">six components</text>
<line x1="159.9" y1="1529" x2="218.6" y2="1529" stroke="#ad76e0" stroke-width="3.2" />
<text transform="matrix(1 0 0 1.03 228.06 1536.6)" font-size="28.6" fill="#000" xml:space="preserve">eight components</text>
<text x="-0.07" y="1952" font-size="37.08" fill="#000" xml:space="preserve">(c) Energy dissipation diagram of ZnO resistors valve plates.</text>
<path d="M100.3 2421.3 L440 2421.3 L441.5 2421.3 L443 2421.3 L444.5 2421.3 L446 2421.3 L447.5 2421.3 L449 2421.3 L450.5 2421.3 L452 2421.3 L453.5 2421.3 L455 2421.3 L456.5 2421.3 L458 2421.3 L459.5 2421.3 L461 2421.3 L462.5 2421.3 L464 2421.3 L465.5 2421.3 L467 2421.3 L468.5 2421.3 L470 2421.3 L471.5 2421.3 L473 2421.3 L474.5 2421.3 L476 2421.3 L477.5 2421.3 L479 2421.3 L480.5 2421.3 L482 2421.3 L483.5 2421.3 L485 2421.3 L486.5 2421.3 L488 2421.3 L489.5 2421.29 L491 2421.28 L492.5 2421.25 L494 2421.21 L495.5 2421.13 L497 2421.01 L498.5 2420.8 L500 2420.42 L501.5 2419.86 L503 2419.13 L504.5 2418.29 L506 2417.39 L507.5 2416.43 L509 2415.4 L510.5 2414.29 L512 2413.1 L513.5 2411.85 L515 2410.55 L516.5 2409.22 L518 2407.86 L519.5 2406.47 L521 2405.03 L522.5 2403.55 L524 2402.03 L525.5 2400.45 L527 2398.83 L528.5 2397.16 L530 2395.43 L531.5 2393.66 L533 2391.87 L534.5 2390.08 L536 2388.31 L537.5 2386.56 L539 2384.83 L540.5 2383.16 L542 2381.57 L543.5 2380.08 L545 2378.68 L546.5 2377.33 L548 2376 L549.5 2374.7 L551 2373.41 L552.5 2372.15 L554 2370.9 L555.5 2369.68 L557 2368.47 L558.5 2367.28 L560 2366.12 L561.5 2364.97 L563 2363.84 L564.5 2362.73 L566 2361.63 L567.5 2360.56 L569 2359.5 L570.5 2358.46 L572 2357.44 L573.5 2356.43 L575 2355.45 L576.5 2354.48 L578 2353.52 L579.5 2352.58 L581 2351.66 L582.5 2350.75 L584 2349.86 L585.5 2348.99 L587 2348.13 L588.5 2347.28 L590 2346.45 L591.5 2345.64 L593 2344.83 L594.5 2344.05 L596 2343.27 L597.5 2342.51 L599 2341.77 L600.5 2341.03 L602 2340.31 L603.5 2339.61 L605 2338.91 L606.5 2338.23 L608 2337.56 L609.5 2336.9 L611 2336.26 L612.5 2335.62 L614 2335 L615.5 2334.39 L617 2333.78 L618.5 2333.19 L620 2332.62 L621.5 2332.05 L623 2331.49 L624.5 2330.94 L626 2330.4 L627.5 2329.87 L629 2329.35 L630.5 2328.84 L632 2328.34 L633.5 2327.85 L635 2327.37 L636.5 2326.9 L638 2326.43 L639.5 2325.98 L641 2325.53 L642.5 2325.09 L644 2324.66 L645.5 2324.24 L647 2323.82 L648.5 2323.42 L650 2323.02 L651.5 2322.62 L653 2322.24 L654.5 2321.86 L656 2321.49 L657.5 2321.12 L659 2320.77 L660.5 2320.42 L662 2320.07 L663.5 2319.73 L665 2319.4 L666.5 2319.08 L668 2318.76 L669.5 2318.44 L671 2318.14 L672.5 2317.83 L674 2317.54 L675.5 2317.25 L677 2316.96 L678.5 2316.68 L680 2316.41 L681.5 2316.14 L683 2315.87 L684.5 2315.61 L686 2315.36 L687.5 2315.11 L689 2314.87 L690.5 2314.63 L692 2314.39 L693.5 2314.16 L695 2313.93 L696.5 2313.71 L698 2313.49 L699.5 2313.28 L701 2313.07 L702.5 2312.86 L704 2312.66 L705.5 2312.46 L707 2312.26 L708.5 2312.07 L710 2311.88 L711.5 2311.7 L713 2311.52 L714.5 2311.34 L716 2311.17 L717.5 2311 L719 2310.83 L720.5 2310.67 L722 2310.51 L723.5 2310.35 L725 2310.19 L726.5 2310.04 L728 2309.89 L729.5 2309.75 L731 2309.6 L732.5 2309.46 L734 2309.32 L735.5 2309.19 L737 2309.06 L738.5 2308.93 L740 2308.8 L741.5 2308.67 L743 2308.55 L744.5 2308.43 L746 2308.31 L747.5 2308.2 L749 2308.08 L750.5 2307.97 L752 2307.86 L753.5 2307.75 L755 2307.65 L756.5 2307.54 L758 2307.44 L759.5 2307.34 L761 2307.25 L762.5 2307.15 L764 2307.06 L765.5 2306.97 L767 2306.88 L768.5 2306.79 L770 2306.7 L771.5 2306.61 L773 2306.53 L774.5 2306.45 L776 2306.37 L777.5 2306.29 L779 2306.21 L780.5 2306.14 L782 2306.06 L783.5 2305.99 L785 2305.92 L786.5 2305.85 L788 2305.78 L789.5 2305.71 L791 2305.65 L792.5 2305.58 L794 2305.52 L795.5 2305.46 L797 2305.39 L798.5 2305.33 L800 2305.28 L801.5 2305.22 L803 2305.16 L804.5 2305.11 L806 2305.05 L807.5 2305 L809 2304.95 L810.5 2304.89 L812 2304.84 L813.5 2304.79 L815 2304.75 L816.5 2304.7 L818 2304.65 L819.5 2304.61 L821 2304.56 L822.5 2304.52 L824 2304.47 L825.5 2304.43 L827 2304.39 L828.5 2304.35 L830 2304.31 L831.5 2304.27 L833 2304.23 L834.5 2304.19 L836 2304.16 L837.5 2304.12 L839 2304.09 L840.5 2304.05 L842 2304.02 L843.5 2303.98 L845 2303.95 L846.5 2303.92 L848 2303.89 L849.5 2303.86 L851 2303.83 L852.5 2303.8 L854 2303.77 L855.5 2303.74 L857 2303.71 L858.5 2303.68 L860 2303.66 L861.5 2303.63 L863 2303.6 L864.5 2303.58 L866 2303.55 L867.5 2303.53 L869 2303.51 L870.5 2303.48 L872 2303.46 L873.5 2303.44 L875 2303.41 L876.5 2303.39 L878 2303.37 L879.5 2303.35 L881 2303.33 L882.5 2303.31 L884 2303.29 L885.5 2303.27 L887 2303.25 L888.5 2303.23 L890 2303.21 L891.5 2303.2 L893 2303.18 L894.5 2303.16 L896 2303.15 L897.5 2303.13 L899 2303.11 L900.5 2303.1 L902 2303.08 L903.5 2303.07 L905 2303.05 L906.5 2303.04 L908 2303.02 L909.5 2303.01 L911 2302.99 L912.5 2302.98 L914 2302.97 L915.5 2302.95 L917 2302.94 L918.5 2302.93 L920 2302.92 L921.5 2302.9 L923 2302.89 L924.5 2302.88 L926 2302.87 L927.5 2302.86 L929 2302.85 L930.5 2302.84 L932 2302.83 L933.5 2302.82 L935 2302.81 L936.5 2302.8 L938 2302.79 L939.5 2302.78 L941 2302.77 L942.5 2302.76 L944 2302.75 L945.5 2302.74 L947 2302.73 L948.5 2302.72 L950 2302.72 L951.5 2302.71 L953 2302.7 L954.5 2302.69 L956 2302.68 L957.5 2302.68 L959 2302.67 L960.5 2302.66 L962 2302.65 L963.5 2302.65 L965 2302.64 L966.5 2302.63 L968 2302.63 L969.5 2302.62 L971 2302.61 L972.5 2302.61 L974 2302.6 L975.5 2302.6 L977 2302.59 L978.5 2302.59 L979.4 2302.58" fill="none" stroke="#000000" stroke-width="3.3" stroke-linejoin="round" stroke-linecap="butt"/>
<path d="M100.3 2421.3 L440 2421.3 L441.5 2421.3 L443 2421.3 L444.5 2421.3 L446 2421.3 L447.5 2421.3 L449 2421.3 L450.5 2421.3 L452 2421.3 L453.5 2421.3 L455 2421.3 L456.5 2421.3 L458 2421.3 L459.5 2421.3 L461 2421.3 L462.5 2421.3 L464 2421.3 L465.5 2421.3 L467 2421.3 L468.5 2421.3 L470 2421.3 L471.5 2421.3 L473 2421.3 L474.5 2421.3 L476 2421.3 L477.5 2421.3 L479 2421.3 L480.5 2421.3 L482 2421.3 L483.5 2421.3 L485 2421.3 L486.5 2421.3 L488 2421.29 L489.5 2421.26 L491 2421.21 L492.5 2421.14 L494 2421.01 L495.5 2420.8 L497 2420.45 L498.5 2419.92 L500 2419.21 L501.5 2418.34 L503 2417.32 L504.5 2416.17 L506 2414.82 L507.5 2413.18 L509 2411.19 L510.5 2408.82 L512 2406.14 L513.5 2403.2 L515 2399.98 L516.5 2396.45 L518 2392.67 L519.5 2388.77 L521 2384.85 L522.5 2381 L524 2377.2 L525.5 2373.46 L527 2369.77 L528.5 2366.16 L530 2362.65 L531.5 2359.26 L533 2356.01 L534.5 2352.87 L536 2349.81 L537.5 2346.81 L539 2343.89 L540.5 2341.02 L542 2338.22 L543.5 2335.48 L545 2332.8 L546.5 2330.18 L548 2327.62 L549.5 2325.12 L551 2322.68 L552.5 2320.3 L554 2317.97 L555.5 2315.7 L557 2313.49 L558.5 2311.32 L560 2309.21 L561.5 2307.16 L563 2305.15 L564.5 2303.19 L566 2301.29 L567.5 2299.43 L569 2297.61 L570.5 2295.85 L572 2294.12 L573.5 2292.44 L575 2290.81 L576.5 2289.21 L578 2287.66 L579.5 2286.14 L581 2284.67 L582.5 2283.23 L584 2281.83 L585.5 2280.47 L587 2279.14 L588.5 2277.85 L590 2276.59 L591.5 2275.37 L593 2274.17 L594.5 2273.01 L596 2271.88 L597.5 2270.78 L599 2269.71 L600.5 2268.66 L602 2267.65 L603.5 2266.66 L605 2265.7 L606.5 2264.76 L608 2263.85 L609.5 2262.96 L611 2262.1 L612.5 2261.26 L614 2260.44 L615.5 2259.64 L617 2258.87 L618.5 2258.11 L620 2257.38 L621.5 2256.67 L623 2255.97 L624.5 2255.3 L626 2254.64 L627.5 2254 L629 2253.38 L630.5 2252.78 L632 2252.19 L633.5 2251.62 L635 2251.06 L636.5 2250.52 L638 2249.99 L639.5 2249.48 L641 2248.98 L642.5 2248.5 L644 2248.03 L645.5 2247.57 L647 2247.12 L648.5 2246.69 L650 2246.27 L651.5 2245.86 L653 2245.46 L654.5 2245.07 L656 2244.7 L657.5 2244.33 L659 2243.97 L660.5 2243.63 L662 2243.29 L663.5 2242.96 L665 2242.64 L666.5 2242.33 L668 2242.03 L669.5 2241.74 L671 2241.45 L672.5 2241.18 L674 2240.91 L675.5 2240.65 L677 2240.39 L678.5 2240.15 L680 2239.91 L681.5 2239.67 L683 2239.44 L684.5 2239.22 L686 2239.01 L687.5 2238.8 L689 2238.6 L690.5 2238.4 L692 2238.21 L693.5 2238.02 L695 2237.84 L696.5 2237.66 L698 2237.49 L699.5 2237.33 L701 2237.17 L702.5 2237.01 L704 2236.86 L705.5 2236.71 L707 2236.56 L708.5 2236.42 L710 2236.29 L711.5 2236.15 L713 2236.02 L714.5 2235.9 L716 2235.78 L717.5 2235.66 L719 2235.54 L720.5 2235.43 L722 2235.32 L723.5 2235.22 L725 2235.12 L726.5 2235.02 L728 2234.92 L729.5 2234.83 L731 2234.73 L732.5 2234.64 L734 2234.56 L735.5 2234.47 L737 2234.39 L738.5 2234.31 L740 2234.24 L741.5 2234.16 L743 2234.09 L744.5 2234.02 L746 2233.95 L747.5 2233.88 L749 2233.82 L750.5 2233.75 L752 2233.69 L753.5 2233.63 L755 2233.58 L756.5 2233.52 L758 2233.47 L759.5 2233.41 L761 2233.36 L762.5 2233.31 L764 2233.26 L765.5 2233.21 L767 2233.17 L768.5 2233.12 L770 2233.08 L771.5 2233.04 L773 2233 L774.5 2232.96 L776 2232.92 L777.5 2232.88 L779 2232.84 L780.5 2232.81 L782 2232.77 L783.5 2232.74 L785 2232.71 L786.5 2232.68 L788 2232.65 L789.5 2232.62 L791 2232.59 L792.5 2232.56 L794 2232.53 L795.5 2232.51 L797 2232.48 L798.5 2232.45 L800 2232.43 L801.5 2232.41 L803 2232.38 L804.5 2232.36 L806 2232.34 L807.5 2232.32 L809 2232.3 L810.5 2232.28 L812 2232.26 L813.5 2232.24 L815 2232.22 L816.5 2232.2 L818 2232.19 L819.5 2232.17 L821 2232.15 L822.5 2232.14 L824 2232.12 L825.5 2232.11 L827 2232.09 L828.5 2232.08 L830 2232.06 L831.5 2232.05 L833 2232.04 L834.5 2232.03 L836 2232.01 L837.5 2232 L839 2231.99 L840.5 2231.98 L842 2231.97 L843.5 2231.96 L845 2231.95 L846.5 2231.94 L848 2231.93 L849.5 2231.92 L851 2231.91 L852.5 2231.9 L854 2231.89 L855.5 2231.88 L857 2231.88 L858.5 2231.87 L860 2231.86 L861.5 2231.85 L863 2231.84 L864.5 2231.84 L866 2231.83 L867.5 2231.82 L869 2231.82 L870.5 2231.81 L872 2231.81 L873.5 2231.8 L875 2231.79 L876.5 2231.79 L878 2231.78 L879.5 2231.78 L881 2231.77 L882.5 2231.77 L884 2231.76 L885.5 2231.76 L887 2231.75 L888.5 2231.75 L890 2231.75 L891.5 2231.74 L893 2231.74 L894.5 2231.73 L896 2231.73 L897.5 2231.73 L899 2231.72 L900.5 2231.72 L902 2231.71 L903.5 2231.71 L905 2231.71 L906.5 2231.71 L908 2231.7 L909.5 2231.7 L911 2231.7 L912.5 2231.69 L914 2231.69 L915.5 2231.69 L917 2231.69 L918.5 2231.68 L920 2231.68 L921.5 2231.68 L923 2231.68 L924.5 2231.67 L926 2231.67 L927.5 2231.67 L929 2231.67 L930.5 2231.67 L932 2231.66 L933.5 2231.66 L935 2231.66 L936.5 2231.66 L938 2231.66 L939.5 2231.66 L941 2231.65 L942.5 2231.65 L944 2231.65 L945.5 2231.65 L947 2231.65 L948.5 2231.65 L950 2231.65 L951.5 2231.64 L953 2231.64 L954.5 2231.64 L956 2231.64 L957.5 2231.64 L959 2231.64 L960.5 2231.64 L962 2231.64 L963.5 2231.63 L965 2231.63 L966.5 2231.63 L968 2231.63 L969.5 2231.63 L971 2231.63 L972.5 2231.63 L974 2231.63 L975.5 2231.63 L977 2231.63 L978.5 2231.63 L979.4 2231.63" fill="none" stroke="#e8353b" stroke-width="3.3" stroke-linejoin="round" stroke-linecap="butt"/>
<path d="M100.3 2421.3 L440 2421.3 L441.5 2421.3 L443 2421.3 L444.5 2421.3 L446 2421.3 L447.5 2421.3 L449 2421.3 L450.5 2421.3 L452 2421.3 L453.5 2421.3 L455 2421.3 L456.5 2421.3 L458 2421.3 L459.5 2421.3 L461 2421.3 L462.5 2421.3 L464 2421.3 L465.5 2421.3 L467 2421.3 L468.5 2421.3 L470 2421.3 L471.5 2421.3 L473 2421.3 L474.5 2421.3 L476 2421.29 L477.5 2421.29 L479 2421.28 L480.5 2421.27 L482 2421.25 L483.5 2421.23 L485 2421.21 L486.5 2421.17 L488 2421.12 L489.5 2421.03 L491 2420.92 L492.5 2420.77 L494 2420.58 L495.5 2420.35 L497 2420.05 L498.5 2419.6 L500 2418.79 L501.5 2417.36 L503 2415.17 L504.5 2412.24 L506 2408.72 L507.5 2404.68 L509 2400.04 L510.5 2394.72 L512 2388.78 L513.5 2382.42 L515 2375.82 L516.5 2369.1 L518 2362.34 L519.5 2355.58 L521 2348.85 L522.5 2342.17 L524 2335.53 L525.5 2328.95 L527 2322.46 L528.5 2316.08 L530 2309.85 L531.5 2303.77 L533 2297.85 L534.5 2292.1 L536 2286.51 L537.5 2281.09 L539 2275.84 L540.5 2270.76 L542 2265.85 L543.5 2261.1 L545 2256.52 L546.5 2252.1 L548 2247.84 L549.5 2243.74 L551 2239.79 L552.5 2235.98 L554 2232.33 L555.5 2228.81 L557 2225.43 L558.5 2222.19 L560 2219.07 L561.5 2216.08 L563 2213.22 L564.5 2210.47 L566 2207.83 L567.5 2205.3 L569 2202.88 L570.5 2200.56 L572 2198.34 L573.5 2196.22 L575 2194.18 L576.5 2192.24 L578 2190.38 L579.5 2188.6 L581 2186.89 L582.5 2185.27 L584 2183.71 L585.5 2182.22 L587 2180.8 L588.5 2179.45 L590 2178.15 L591.5 2176.91 L593 2175.73 L594.5 2174.61 L596 2173.53 L597.5 2172.5 L599 2171.52 L600.5 2170.59 L602 2169.69 L603.5 2168.84 L605 2168.03 L606.5 2167.26 L608 2166.52 L609.5 2165.82 L611 2165.15 L612.5 2164.51 L614 2163.9 L615.5 2163.32 L617 2162.77 L618.5 2162.24 L620 2161.74 L621.5 2161.26 L623 2160.8 L624.5 2160.37 L626 2159.96 L627.5 2159.56 L629 2159.19 L630.5 2158.83 L632 2158.49 L633.5 2158.17 L635 2157.86 L636.5 2157.57 L638 2157.29 L639.5 2157.02 L641 2156.77 L642.5 2156.53 L644 2156.3 L645.5 2156.08 L647 2155.88 L648.5 2155.68 L650 2155.49 L651.5 2155.32 L653 2155.15 L654.5 2154.98 L656 2154.83 L657.5 2154.69 L659 2154.55 L660.5 2154.42 L662 2154.29 L663.5 2154.17 L665 2154.06 L666.5 2153.95 L668 2153.85 L669.5 2153.75 L671 2153.66 L672.5 2153.57 L674 2153.49 L675.5 2153.41 L677 2153.33 L678.5 2153.26 L680 2153.19 L681.5 2153.13 L683 2153.06 L684.5 2153.01 L686 2152.95 L687.5 2152.9 L689 2152.85 L690.5 2152.8 L692 2152.75 L693.5 2152.71 L695 2152.67 L696.5 2152.63 L698 2152.59 L699.5 2152.56 L701 2152.53 L702.5 2152.49 L704 2152.46 L705.5 2152.44 L707 2152.41 L708.5 2152.38 L710 2152.36 L711.5 2152.33 L713 2152.31 L714.5 2152.29 L716 2152.27 L717.5 2152.25 L719 2152.23 L720.5 2152.22 L722 2152.2 L723.5 2152.19 L725 2152.17 L726.5 2152.16 L728 2152.14 L729.5 2152.13 L731 2152.12 L732.5 2152.11 L734 2152.1 L735.5 2152.09 L737 2152.08 L738.5 2152.07 L740 2152.06 L741.5 2152.05 L743 2152.04 L744.5 2152.04 L746 2152.03 L747.5 2152.02 L749 2152.02 L750.5 2152.01 L752 2152.01 L753.5 2152 L755 2152 L756.5 2151.99 L758 2151.99 L759.5 2151.98 L761 2151.98 L762.5 2151.97 L764 2151.97 L765.5 2151.97 L767 2151.96 L768.5 2151.96 L770 2151.96 L771.5 2151.95 L773 2151.95 L774.5 2151.95 L776 2151.95 L777.5 2151.94 L779 2151.94 L780.5 2151.94 L782 2151.94 L783.5 2151.93 L785 2151.93 L786.5 2151.93 L788 2151.93 L789.5 2151.93 L791 2151.93 L792.5 2151.93 L794 2151.92 L795.5 2151.92 L797 2151.92 L798.5 2151.92 L800 2151.92 L801.5 2151.92 L803 2151.92 L804.5 2151.92 L806 2151.92 L807.5 2151.91 L809 2151.91 L810.5 2151.91 L812 2151.91 L813.5 2151.91 L815 2151.91 L816.5 2151.91 L818 2151.91 L819.5 2151.91 L821 2151.91 L822.5 2151.91 L824 2151.91 L825.5 2151.91 L827 2151.91 L828.5 2151.91 L830 2151.91 L831.5 2151.91 L833 2151.91 L834.5 2151.91 L836 2151.91 L837.5 2151.91 L839 2151.9 L840.5 2151.9 L842 2151.9 L843.5 2151.9 L845 2151.9 L846.5 2151.9 L848 2151.9 L849.5 2151.9 L851 2151.9 L852.5 2151.9 L854 2151.9 L855.5 2151.9 L857 2151.9 L858.5 2151.9 L860 2151.9 L861.5 2151.9 L863 2151.9 L864.5 2151.9 L866 2151.9 L867.5 2151.9 L869 2151.9 L870.5 2151.9 L872 2151.9 L873.5 2151.9 L875 2151.9 L876.5 2151.9 L878 2151.9 L879.5 2151.9 L881 2151.9 L882.5 2151.9 L884 2151.9 L885.5 2151.9 L887 2151.9 L888.5 2151.9 L890 2151.9 L891.5 2151.9 L893 2151.9 L894.5 2151.9 L896 2151.9 L897.5 2151.9 L899 2151.9 L900.5 2151.9 L902 2151.9 L903.5 2151.9 L905 2151.9 L906.5 2151.9 L908 2151.9 L909.5 2151.9 L911 2151.9 L912.5 2151.9 L914 2151.9 L915.5 2151.9 L917 2151.9 L918.5 2151.9 L920 2151.9 L921.5 2151.9 L923 2151.9 L924.5 2151.9 L926 2151.9 L927.5 2151.9 L929 2151.9 L930.5 2151.9 L932 2151.9 L933.5 2151.9 L935 2151.9 L936.5 2151.9 L938 2151.9 L939.5 2151.9 L941 2151.9 L942.5 2151.9 L944 2151.9 L945.5 2151.9 L947 2151.9 L948.5 2151.9 L950 2151.9 L951.5 2151.9 L953 2151.9 L954.5 2151.9 L956 2151.9 L957.5 2151.9 L959 2151.9 L960.5 2151.9 L962 2151.9 L963.5 2151.9 L965 2151.9 L966.5 2151.9 L968 2151.9 L969.5 2151.9 L971 2151.9 L972.5 2151.9 L974 2151.9 L975.5 2151.9 L977 2151.9 L978.5 2151.9 L979.4 2151.9" fill="none" stroke="#1a66d9" stroke-width="3.3" stroke-linejoin="round" stroke-linecap="butt"/>
<path d="M100.3 2421.3 L440 2421.3 L441.5 2421.3 L443 2421.3 L444.5 2421.3 L446 2421.3 L447.5 2421.3 L449 2421.3 L450.5 2421.3 L452 2421.3 L453.5 2421.3 L455 2421.3 L456.5 2421.3 L458 2421.3 L459.5 2421.3 L461 2421.3 L462.5 2421.3 L464 2421.3 L465.5 2421.3 L467 2421.3 L468.5 2421.3 L470 2421.3 L471.5 2421.3 L473 2421.3 L474.5 2421.29 L476 2421.27 L477.5 2421.25 L479 2421.2 L480.5 2421.15 L482 2421.09 L483.5 2421 L485 2420.87 L486.5 2420.68 L488 2420.42 L489.5 2420.08 L491 2419.66 L492.5 2419.15 L494 2418.55 L495.5 2417.84 L497 2416.95 L498.5 2415.72 L500 2413.94 L501.5 2411.47 L503 2408.34 L504.5 2404.59 L506 2400.16 L507.5 2394.71 L509 2387.86 L510.5 2379.48 L512 2369.95 L513.5 2359.9 L515 2349.76 L516.5 2339.71 L518 2329.85 L519.5 2320.22 L521 2310.92 L522.5 2302 L524 2293.47 L525.5 2285.26 L527 2277.36 L528.5 2269.73 L530 2262.39 L531.5 2255.33 L533 2248.53 L534.5 2242.01 L536 2235.76 L537.5 2229.76 L539 2224.01 L540.5 2218.51 L542 2213.25 L543.5 2208.21 L545 2203.4 L546.5 2198.81 L548 2194.42 L549.5 2190.23 L551 2186.24 L552.5 2182.43 L554 2178.8 L555.5 2175.33 L557 2172.04 L558.5 2168.9 L560 2165.9 L561.5 2163.06 L563 2160.35 L564.5 2157.77 L566 2155.32 L567.5 2152.98 L569 2150.76 L570.5 2148.66 L572 2146.65 L573.5 2144.75 L575 2142.94 L576.5 2141.22 L578 2139.58 L579.5 2138.03 L581 2136.56 L582.5 2135.16 L584 2133.83 L585.5 2132.57 L587 2131.38 L588.5 2130.24 L590 2129.16 L591.5 2128.14 L593 2127.17 L594.5 2126.25 L596 2125.38 L597.5 2124.55 L599 2123.77 L600.5 2123.02 L602 2122.32 L603.5 2121.65 L605 2121.02 L606.5 2120.42 L608 2119.85 L609.5 2119.31 L611 2118.79 L612.5 2118.31 L614 2117.85 L615.5 2117.42 L617 2117 L618.5 2116.61 L620 2116.24 L621.5 2115.89 L623 2115.56 L624.5 2115.25 L626 2114.95 L627.5 2114.67 L629 2114.4 L630.5 2114.15 L632 2113.91 L633.5 2113.68 L635 2113.47 L636.5 2113.26 L638 2113.07 L639.5 2112.89 L641 2112.72 L642.5 2112.55 L644 2112.4 L645.5 2112.25 L647 2112.12 L648.5 2111.99 L650 2111.86 L651.5 2111.74 L653 2111.63 L654.5 2111.53 L656 2111.43 L657.5 2111.34 L659 2111.25 L660.5 2111.16 L662 2111.08 L663.5 2111.01 L665 2110.94 L666.5 2110.87 L668 2110.81 L669.5 2110.75 L671 2110.69 L672.5 2110.63 L674 2110.58 L675.5 2110.53 L677 2110.49 L678.5 2110.45 L680 2110.41 L681.5 2110.37 L683 2110.33 L684.5 2110.3 L686 2110.26 L687.5 2110.23 L689 2110.2 L690.5 2110.18 L692 2110.15 L693.5 2110.13 L695 2110.1 L696.5 2110.08 L698 2110.06 L699.5 2110.04 L701 2110.02 L702.5 2110 L704 2109.99 L705.5 2109.97 L707 2109.96 L708.5 2109.94 L710 2109.93 L711.5 2109.92 L713 2109.9 L714.5 2109.89 L716 2109.88 L717.5 2109.87 L719 2109.86 L720.5 2109.85 L722 2109.85 L723.5 2109.84 L725 2109.83 L726.5 2109.82 L728 2109.82 L729.5 2109.81 L731 2109.8 L732.5 2109.8 L734 2109.79 L735.5 2109.79 L737 2109.78 L738.5 2109.78 L740 2109.77 L741.5 2109.77 L743 2109.77 L744.5 2109.76 L746 2109.76 L747.5 2109.76 L749 2109.75 L750.5 2109.75 L752 2109.75 L753.5 2109.74 L755 2109.74 L756.5 2109.74 L758 2109.74 L759.5 2109.74 L761 2109.73 L762.5 2109.73 L764 2109.73 L765.5 2109.73 L767 2109.73 L768.5 2109.72 L770 2109.72 L771.5 2109.72 L773 2109.72 L774.5 2109.72 L776 2109.72 L777.5 2109.72 L779 2109.72 L780.5 2109.72 L782 2109.71 L783.5 2109.71 L785 2109.71 L786.5 2109.71 L788 2109.71 L789.5 2109.71 L791 2109.71 L792.5 2109.71 L794 2109.71 L795.5 2109.71 L797 2109.71 L798.5 2109.71 L800 2109.71 L801.5 2109.71 L803 2109.71 L804.5 2109.71 L806 2109.71 L807.5 2109.71 L809 2109.71 L810.5 2109.71 L812 2109.7 L813.5 2109.7 L815 2109.7 L816.5 2109.7 L818 2109.7 L819.5 2109.7 L821 2109.7 L822.5 2109.7 L824 2109.7 L825.5 2109.7 L827 2109.7 L828.5 2109.7 L830 2109.7 L831.5 2109.7 L833 2109.7 L834.5 2109.7 L836 2109.7 L837.5 2109.7 L839 2109.7 L840.5 2109.7 L842 2109.7 L843.5 2109.7 L845 2109.7 L846.5 2109.7 L848 2109.7 L849.5 2109.7 L851 2109.7 L852.5 2109.7 L854 2109.7 L855.5 2109.7 L857 2109.7 L858.5 2109.7 L860 2109.7 L861.5 2109.7 L863 2109.7 L864.5 2109.7 L866 2109.7 L867.5 2109.7 L869 2109.7 L870.5 2109.7 L872 2109.7 L873.5 2109.7 L875 2109.7 L876.5 2109.7 L878 2109.7 L879.5 2109.7 L881 2109.7 L882.5 2109.7 L884 2109.7 L885.5 2109.7 L887 2109.7 L888.5 2109.7 L890 2109.7 L891.5 2109.7 L893 2109.7 L894.5 2109.7 L896 2109.7 L897.5 2109.7 L899 2109.7 L900.5 2109.7 L902 2109.7 L903.5 2109.7 L905 2109.7 L906.5 2109.7 L908 2109.7 L909.5 2109.7 L911 2109.7 L912.5 2109.7 L914 2109.7 L915.5 2109.7 L917 2109.7 L918.5 2109.7 L920 2109.7 L921.5 2109.7 L923 2109.7 L924.5 2109.7 L926 2109.7 L927.5 2109.7 L929 2109.7 L930.5 2109.7 L932 2109.7 L933.5 2109.7 L935 2109.7 L936.5 2109.7 L938 2109.7 L939.5 2109.7 L941 2109.7 L942.5 2109.7 L944 2109.7 L945.5 2109.7 L947 2109.7 L948.5 2109.7 L950 2109.7 L951.5 2109.7 L953 2109.7 L954.5 2109.7 L956 2109.7 L957.5 2109.7 L959 2109.7 L960.5 2109.7 L962 2109.7 L963.5 2109.7 L965 2109.7 L966.5 2109.7 L968 2109.7 L969.5 2109.7 L971 2109.7 L972.5 2109.7 L974 2109.7 L975.5 2109.7 L977 2109.7 L978.5 2109.7 L979.4 2109.7" fill="none" stroke="#28a25e" stroke-width="3.3" stroke-linejoin="round" stroke-linecap="butt"/>
<path d="M100.3 2421.3 L440 2421.3 L441.5 2421.3 L443 2421.3 L444.5 2421.3 L446 2421.3 L447.5 2421.3 L449 2421.3 L450.5 2421.3 L452 2421.3 L453.5 2421.3 L455 2421.3 L456.5 2421.3 L458 2421.3 L459.5 2421.3 L461 2421.3 L462.5 2421.3 L464 2421.3 L465.5 2421.3 L467 2421.3 L468.5 2421.3 L470 2421.3 L471.5 2421.3 L473 2421.29 L474.5 2421.25 L476 2421.18 L477.5 2421.05 L479 2420.86 L480.5 2420.57 L482 2420.15 L483.5 2419.61 L485 2418.97 L486.5 2418.31 L488 2417.66 L489.5 2417.02 L491 2416.32 L492.5 2415.5 L494 2414.44 L495.5 2412.96 L497 2410.93 L498.5 2408.25 L500 2404.9 L501.5 2400.76 L503 2395.63 L504.5 2389.43 L506 2382.24 L507.5 2374.29 L509 2365.82 L510.5 2357.01 L512 2347.95 L513.5 2338.74 L515 2329.42 L516.5 2320.02 L518 2310.56 L519.5 2301.12 L521 2291.78 L522.5 2282.58 L524 2273.58 L525.5 2264.8 L527 2256.25 L528.5 2247.94 L530 2239.9 L531.5 2232.13 L533 2224.63 L534.5 2217.4 L536 2210.46 L537.5 2203.79 L539 2197.4 L540.5 2191.29 L542 2185.44 L543.5 2179.85 L545 2174.52 L546.5 2169.44 L548 2164.6 L549.5 2160 L551 2155.63 L552.5 2151.47 L554 2147.53 L555.5 2143.79 L557 2140.25 L558.5 2136.89 L560 2133.72 L561.5 2130.72 L563 2127.88 L564.5 2125.2 L566 2122.66 L567.5 2120.27 L569 2118.02 L570.5 2115.89 L572 2113.89 L573.5 2112 L575 2110.22 L576.5 2108.54 L578 2106.97 L579.5 2105.49 L581 2104.09 L582.5 2102.78 L584 2101.55 L585.5 2100.4 L587 2099.31 L588.5 2098.29 L590 2097.33 L591.5 2096.44 L593 2095.59 L594.5 2094.8 L596 2094.06 L597.5 2093.37 L599 2092.72 L600.5 2092.11 L602 2091.54 L603.5 2091 L605 2090.5 L606.5 2090.03 L608 2089.59 L609.5 2089.18 L611 2088.8 L612.5 2088.44 L614 2088.1 L615.5 2087.79 L617 2087.5 L618.5 2087.22 L620 2086.97 L621.5 2086.73 L623 2086.5 L624.5 2086.29 L626 2086.1 L627.5 2085.92 L629 2085.74 L630.5 2085.59 L632 2085.44 L633.5 2085.3 L635 2085.17 L636.5 2085.05 L638 2084.94 L639.5 2084.83 L641 2084.73 L642.5 2084.64 L644 2084.56 L645.5 2084.48 L647 2084.4 L648.5 2084.33 L650 2084.27 L651.5 2084.21 L653 2084.15 L654.5 2084.1 L656 2084.05 L657.5 2084.01 L659 2083.97 L660.5 2083.93 L662 2083.89 L663.5 2083.86 L665 2083.82 L666.5 2083.79 L668 2083.77 L669.5 2083.74 L671 2083.72 L672.5 2083.69 L674 2083.67 L675.5 2083.65 L677 2083.64 L678.5 2083.62 L680 2083.6 L681.5 2083.59 L683 2083.58 L684.5 2083.56 L686 2083.55 L687.5 2083.54 L689 2083.53 L690.5 2083.52 L692 2083.51 L693.5 2083.51 L695 2083.5 L696.5 2083.49 L698 2083.49 L699.5 2083.48 L701 2083.47 L702.5 2083.47 L704 2083.46 L705.5 2083.46 L707 2083.45 L708.5 2083.45 L710 2083.45 L711.5 2083.44 L713 2083.44 L714.5 2083.44 L716 2083.44 L717.5 2083.43 L719 2083.43 L720.5 2083.43 L722 2083.43 L723.5 2083.42 L725 2083.42 L726.5 2083.42 L728 2083.42 L729.5 2083.42 L731 2083.42 L732.5 2083.42 L734 2083.41 L735.5 2083.41 L737 2083.41 L738.5 2083.41 L740 2083.41 L741.5 2083.41 L743 2083.41 L744.5 2083.41 L746 2083.41 L747.5 2083.41 L749 2083.41 L750.5 2083.41 L752 2083.41 L753.5 2083.41 L755 2083.41 L756.5 2083.4 L758 2083.4 L759.5 2083.4 L761 2083.4 L762.5 2083.4 L764 2083.4 L765.5 2083.4 L767 2083.4 L768.5 2083.4 L770 2083.4 L771.5 2083.4 L773 2083.4 L774.5 2083.4 L776 2083.4 L777.5 2083.4 L779 2083.4 L780.5 2083.4 L782 2083.4 L783.5 2083.4 L785 2083.4 L786.5 2083.4 L788 2083.4 L789.5 2083.4 L791 2083.4 L792.5 2083.4 L794 2083.4 L795.5 2083.4 L797 2083.4 L798.5 2083.4 L800 2083.4 L801.5 2083.4 L803 2083.4 L804.5 2083.4 L806 2083.4 L807.5 2083.4 L809 2083.4 L810.5 2083.4 L812 2083.4 L813.5 2083.4 L815 2083.4 L816.5 2083.4 L818 2083.4 L819.5 2083.4 L821 2083.4 L822.5 2083.4 L824 2083.4 L825.5 2083.4 L827 2083.4 L828.5 2083.4 L830 2083.4 L831.5 2083.4 L833 2083.4 L834.5 2083.4 L836 2083.4 L837.5 2083.4 L839 2083.4 L840.5 2083.4 L842 2083.4 L843.5 2083.4 L845 2083.4 L846.5 2083.4 L848 2083.4 L849.5 2083.4 L851 2083.4 L852.5 2083.4 L854 2083.4 L855.5 2083.4 L857 2083.4 L858.5 2083.4 L860 2083.4 L861.5 2083.4 L863 2083.4 L864.5 2083.4 L866 2083.4 L867.5 2083.4 L869 2083.4 L870.5 2083.4 L872 2083.4 L873.5 2083.4 L875 2083.4 L876.5 2083.4 L878 2083.4 L879.5 2083.4 L881 2083.4 L882.5 2083.4 L884 2083.4 L885.5 2083.4 L887 2083.4 L888.5 2083.4 L890 2083.4 L891.5 2083.4 L893 2083.4 L894.5 2083.4 L896 2083.4 L897.5 2083.4 L899 2083.4 L900.5 2083.4 L902 2083.4 L903.5 2083.4 L905 2083.4 L906.5 2083.4 L908 2083.4 L909.5 2083.4 L911 2083.4 L912.5 2083.4 L914 2083.4 L915.5 2083.4 L917 2083.4 L918.5 2083.4 L920 2083.4 L921.5 2083.4 L923 2083.4 L924.5 2083.4 L926 2083.4 L927.5 2083.4 L929 2083.4 L930.5 2083.4 L932 2083.4 L933.5 2083.4 L935 2083.4 L936.5 2083.4 L938 2083.4 L939.5 2083.4 L941 2083.4 L942.5 2083.4 L944 2083.4 L945.5 2083.4 L947 2083.4 L948.5 2083.4 L950 2083.4 L951.5 2083.4 L953 2083.4 L954.5 2083.4 L956 2083.4 L957.5 2083.4 L959 2083.4 L960.5 2083.4 L962 2083.4 L963.5 2083.4 L965 2083.4 L966.5 2083.4 L968 2083.4 L969.5 2083.4 L971 2083.4 L972.5 2083.4 L974 2083.4 L975.5 2083.4 L977 2083.4 L978.5 2083.4 L979.4 2083.4" fill="none" stroke="#ad76e0" stroke-width="3.3" stroke-linejoin="round" stroke-linecap="butt"/>
<line x1="189.4" y1="2450.5" x2="189.4" y2="2436.5" stroke="#000" stroke-width="2.1" />
<line x1="189.4" y1="1981.8" x2="189.4" y2="1995.8" stroke="#000" stroke-width="2.1" />
<line x1="302.4" y1="2450.5" x2="302.4" y2="2443.5" stroke="#000" stroke-width="2.1" />
<line x1="302.4" y1="1981.8" x2="302.4" y2="1988.8" stroke="#000" stroke-width="2.1" />
<line x1="415.4" y1="2450.5" x2="415.4" y2="2436.5" stroke="#000" stroke-width="2.1" />
<line x1="415.4" y1="1981.8" x2="415.4" y2="1995.8" stroke="#000" stroke-width="2.1" />
<line x1="528.4" y1="2450.5" x2="528.4" y2="2443.5" stroke="#000" stroke-width="2.1" />
<line x1="528.4" y1="1981.8" x2="528.4" y2="1988.8" stroke="#000" stroke-width="2.1" />
<line x1="641.4" y1="2450.5" x2="641.4" y2="2436.5" stroke="#000" stroke-width="2.1" />
<line x1="641.4" y1="1981.8" x2="641.4" y2="1995.8" stroke="#000" stroke-width="2.1" />
<line x1="754.4" y1="2450.5" x2="754.4" y2="2443.5" stroke="#000" stroke-width="2.1" />
<line x1="754.4" y1="1981.8" x2="754.4" y2="1988.8" stroke="#000" stroke-width="2.1" />
<line x1="867.4" y1="2450.5" x2="867.4" y2="2436.5" stroke="#000" stroke-width="2.1" />
<line x1="867.4" y1="1981.8" x2="867.4" y2="1995.8" stroke="#000" stroke-width="2.1" />
<line x1="99.3" y1="2421.4" x2="113.3" y2="2421.4" stroke="#000" stroke-width="2.1" />
<line x1="980.4" y1="2421.4" x2="966.4" y2="2421.4" stroke="#000" stroke-width="2.1" />
<line x1="99.3" y1="2348.14" x2="106.3" y2="2348.14" stroke="#000" stroke-width="2.1" />
<line x1="980.4" y1="2348.14" x2="973.4" y2="2348.14" stroke="#000" stroke-width="2.1" />
<line x1="99.3" y1="2274.87" x2="113.3" y2="2274.87" stroke="#000" stroke-width="2.1" />
<line x1="980.4" y1="2274.87" x2="966.4" y2="2274.87" stroke="#000" stroke-width="2.1" />
<line x1="99.3" y1="2201.61" x2="106.3" y2="2201.61" stroke="#000" stroke-width="2.1" />
<line x1="980.4" y1="2201.61" x2="973.4" y2="2201.61" stroke="#000" stroke-width="2.1" />
<line x1="99.3" y1="2128.34" x2="113.3" y2="2128.34" stroke="#000" stroke-width="2.1" />
<line x1="980.4" y1="2128.34" x2="966.4" y2="2128.34" stroke="#000" stroke-width="2.1" />
<line x1="99.3" y1="2055.08" x2="106.3" y2="2055.08" stroke="#000" stroke-width="2.1" />
<line x1="980.4" y1="2055.08" x2="973.4" y2="2055.08" stroke="#000" stroke-width="2.1" />
<rect x="99.3" y="1981.8" width="881.1" height="468.7" fill="none" stroke="#000" stroke-width="2.1"/>
<text x="186.06" y="2485.5" font-size="28.4" fill="#000" xml:space="preserve">30</text>
<text x="412.09" y="2485.5" font-size="28.4" fill="#000" xml:space="preserve">35</text>
<text x="638.45" y="2485.5" font-size="28.4" fill="#000" xml:space="preserve">40</text>
<text x="864.48" y="2485.5" font-size="28.4" fill="#000" xml:space="preserve">45</text>
<text x="75.86" y="2433.4" font-size="28.4" fill="#000" xml:space="preserve">0</text>
<text x="76.5" y="2286.87" font-size="28.4" fill="#000" xml:space="preserve">1</text>
<text x="76.36" y="2140.34" font-size="28.4" fill="#000" xml:space="preserve">2</text>
<text x="75.94" y="1993.81" font-size="28.4" fill="#000" xml:space="preserve">3</text>
<text transform="translate(60.6 2248.93) rotate(-90)" font-size="27.68" xml:space="preserve">Energy/MJ</text>
<text x="477.8" y="2518" font-size="28.4" fill="#000" xml:space="preserve">Time/ms</text>
<text x="395.15" y="2358" font-size="28.4" fill="#000" xml:space="preserve">36.6ms</text>
<line x1="442.2" y1="2360.1" x2="468.69" y2="2394.78" stroke="#000" stroke-width="1.6" />
<polygon points="477.8,2406.7 461.52,2397.74 473.44,2388.64" fill="#000"/>
<circle cx="484.8" cy="2417.1" r="10.2" fill="none" stroke="#e8650e" stroke-width="2" stroke-dasharray="3.2 2.2"/>
<line x1="708.6" y1="2410" x2="708.6" y2="2327.6" stroke="#000" stroke-width="1.6" />
<polygon points="708.6,2314.6 716.6,2329.6 700.6,2329.6" fill="#000"/>
<text x="665.36" y="2429.5" font-size="28.4" fill="#000" xml:space="preserve">0.81MJ</text>
<line x1="750.8" y1="2378.9" x2="750.8" y2="2247.6" stroke="#000" stroke-width="1.6" />
<polygon points="750.8,2234.6 758.8,2249.6 742.8,2249.6" fill="#000"/>
<text x="716.1" y="2402.4" font-size="28.4" fill="#000" xml:space="preserve">1.29MJ</text>
<line x1="802.3" y1="2353.6" x2="802.3" y2="2165.8" stroke="#000" stroke-width="1.6" />
<polygon points="802.3,2152.8 810.3,2167.8 794.3,2167.8" fill="#000"/>
<text x="766.7" y="2380" font-size="28.4" fill="#000" xml:space="preserve">1.84MJ</text>
<line x1="863" y1="2335.6" x2="863" y2="2125" stroke="#000" stroke-width="1.6" />
<polygon points="863,2112 871,2127 855,2127" fill="#000"/>
<text x="830.5" y="2359" font-size="28.4" fill="#000" xml:space="preserve">2.13MJ</text>
<line x1="925.3" y1="2317.5" x2="925.3" y2="2099.6" stroke="#000" stroke-width="1.6" />
<polygon points="925.3,2086.6 933.3,2101.6 917.3,2101.6" fill="#000"/>
<text x="883.8" y="2336.3" font-size="28.4" fill="#000" xml:space="preserve">2.30MJ</text>
<rect x="143.2" y="2031.9" width="287.2" height="141.2" fill="#fff" stroke="#222" stroke-width="1.2"/>
<line x1="154.4" y1="2049.5" x2="213.2" y2="2049.5" stroke="#000000" stroke-width="3.2" />
<text x="225.53" y="2056.3" font-size="28.4" fill="#000" xml:space="preserve">one component</text>
<line x1="154.4" y1="2075.5" x2="213.2" y2="2075.5" stroke="#e8353b" stroke-width="3.2" />
<text x="224.72" y="2082.3" font-size="28.4" fill="#000" xml:space="preserve">two components</text>
<line x1="154.4" y1="2101.8" x2="213.2" y2="2101.8" stroke="#1a66d9" stroke-width="3.2" />
<text x="222.55" y="2108.6" font-size="28.4" fill="#000" xml:space="preserve">four components</text>
<line x1="154.4" y1="2128.2" x2="213.2" y2="2128.2" stroke="#28a25e" stroke-width="3.2" />
<text x="223.86" y="2135" font-size="28.4" fill="#000" xml:space="preserve">six components</text>
<line x1="154.4" y1="2154.1" x2="213.2" y2="2154.1" stroke="#ad76e0" stroke-width="3.2" />
<text x="222.26" y="2160.9" font-size="28.4" fill="#000" xml:space="preserve">eight components</text>
<text x="-1.18" y="2571" font-size="37.3" fill="#000" xml:space="preserve">(d)</text>
<text x="70.18" y="2571" font-size="37.3" fill="#000" xml:space="preserve">Energy</text>
<text x="202.49" y="2571" font-size="37.3" fill="#000" xml:space="preserve">dissipation</text>
<text x="390.9" y="2571" font-size="37.3" fill="#000" xml:space="preserve">of</text>
<text x="449.49" y="2571" font-size="37.3" fill="#000" xml:space="preserve">different</text>
<text x="603.96" y="2571" font-size="37.3" fill="#000" xml:space="preserve">numbers</text>
<text x="758.8" y="2571" font-size="37.3" fill="#000" xml:space="preserve">of</text>
<text x="817.95" y="2571" font-size="37.3" fill="#000" xml:space="preserve">liquid</text>
<text x="930.05" y="2571" font-size="37.3" fill="#000" xml:space="preserve">metal</text>
<text x="-0.9" y="2614.2" font-size="37.3" fill="#000" xml:space="preserve">components.</text>
</svg></body></html>
